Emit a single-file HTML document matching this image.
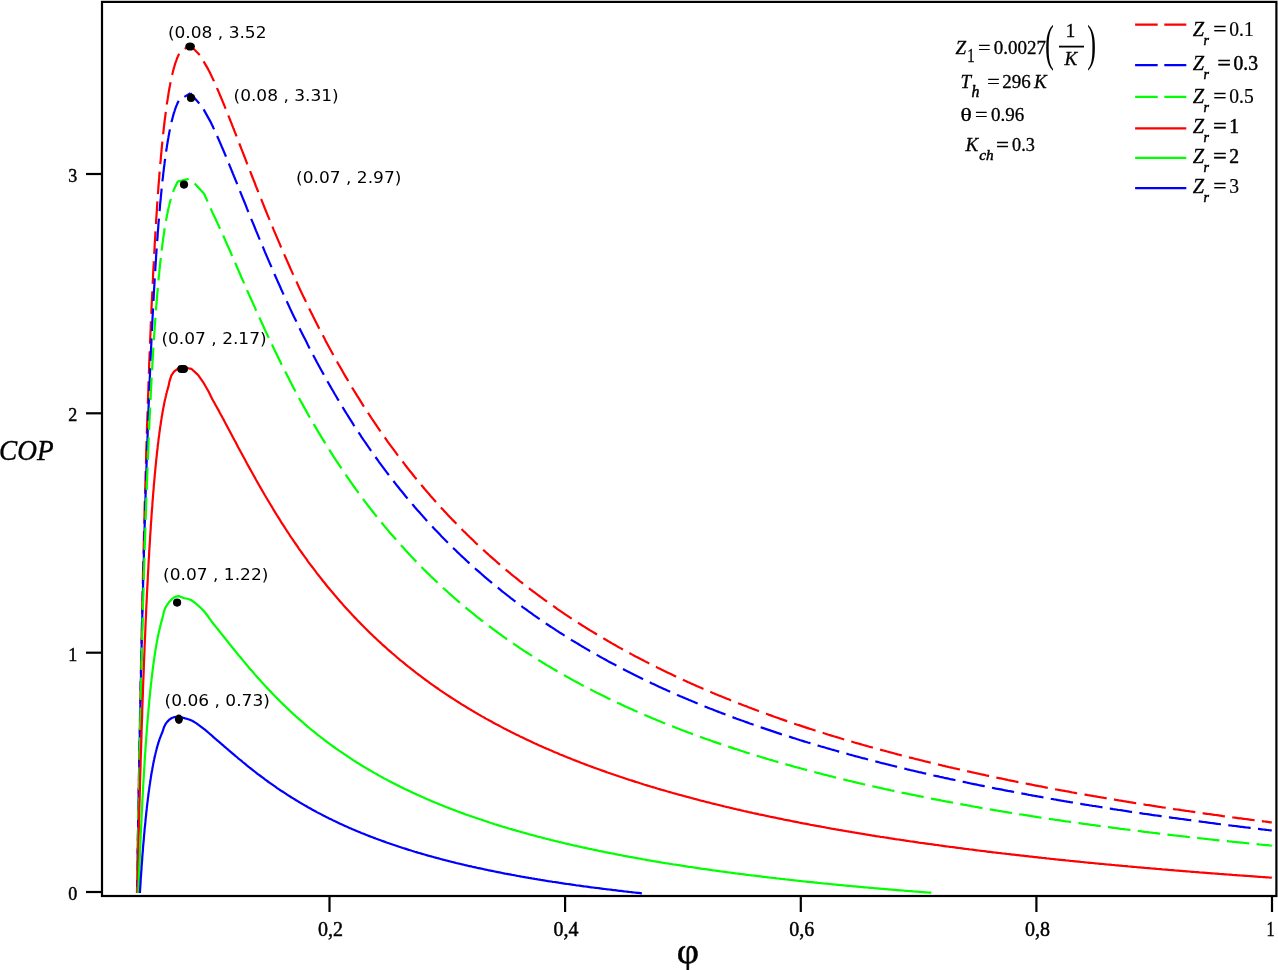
<!DOCTYPE html>
<html lang="en"><head><meta charset="utf-8"><title>COP vs φ</title>
<style>html,body{margin:0;padding:0;background:#fff}svg{display:block}.s{font-family:"Liberation Serif","DejaVu Serif",serif;fill:#000}.a{font-family:"DejaVu Sans","Liberation Sans",sans-serif;font-size:16.5px;fill:#000}.i{font-style:italic}</style></head><body>
<svg width="1278" height="970" viewBox="0 0 1278 970">
<rect x="0" y="0" width="1278" height="970" fill="#fff"/>
<rect x="102" y="1.9" width="1174.4" height="894.1" fill="none" stroke="#000" stroke-width="2.2"/>
<g stroke="#000" stroke-width="2.2">
<line x1="86" y1="892.0" x2="102" y2="892.0"/>
<line x1="86" y1="652.7" x2="102" y2="652.7"/>
<line x1="86" y1="413.3" x2="102" y2="413.3"/>
<line x1="86" y1="174.0" x2="102" y2="174.0"/>
<line x1="329.5" y1="896" x2="329.5" y2="912"/>
<line x1="565.1" y1="896" x2="565.1" y2="912"/>
<line x1="800.8" y1="896" x2="800.8" y2="912"/>
<line x1="1036.4" y1="896" x2="1036.4" y2="912"/>
<line x1="1272.0" y1="896" x2="1272.0" y2="912"/>
</g>
<g class="s" font-size="20" stroke="#000" stroke-width="0.45">
<text font-size="19" transform="translate(77.4,899.9) scale(0.95,1)" text-anchor="end">0</text>
<text font-size="19" transform="translate(77.4,660.6) scale(0.95,1)" text-anchor="end">1</text>
<text font-size="19" transform="translate(77.4,421.2) scale(0.95,1)" text-anchor="end">2</text>
<text font-size="19" transform="translate(77.4,181.9) scale(0.95,1)" text-anchor="end">3</text>
<text x="330.5" y="936" text-anchor="middle">0,2</text>
<text x="566.1" y="936" text-anchor="middle">0,4</text>
<text x="801.8" y="936" text-anchor="middle">0,6</text>
<text x="1037.4" y="936" text-anchor="middle">0,8</text>
<text transform="translate(1270.6,936) scale(0.8,1)" text-anchor="middle">1</text>
</g>
<g fill="none" stroke-width="2.2" stroke-linejoin="round">
<path d="M137.1,893.0 L137.2,885.7 L137.4,873.9 L137.6,862.2 L137.7,850.8 L137.9,839.4 L138.1,828.3 L138.3,817.3 L138.4,806.5 L138.6,795.8 L138.8,785.3 L139.0,774.9 L139.2,764.7 L139.3,754.6 L139.5,744.7 L139.7,734.9 L139.9,725.2 L140.0,715.7 L140.2,706.3 L140.4,697.1 L140.6,687.9 L140.7,678.9 L140.9,670.0 L141.1,661.3 L141.3,652.6 L141.5,644.1 L141.6,635.7 L141.8,627.4 L142.0,619.3 L142.2,611.2 L142.3,603.3 L142.5,595.4 L142.7,587.7 L142.9,580.1 L143.0,572.5 L143.2,565.1 L143.4,557.8 L143.6,550.6 L143.8,543.4 L143.9,536.4 L144.1,529.5 L144.3,522.6 L144.5,515.9 L144.6,509.2 L144.8,502.6 L145.0,496.2 L145.2,489.8 L145.4,483.4 L145.5,477.2 L145.7,471.1 L145.9,465.0 L146.1,459.0 L146.2,453.1 L146.4,447.3 L146.6,441.5 L146.8,435.9 L146.9,430.3 L147.1,424.7 L147.3,419.3 L147.5,413.9 L147.7,408.6 L147.8,403.4 L148.0,398.2 L148.2,393.1 L148.4,388.0 L148.5,383.1 L148.7,378.2 L148.9,373.3 L149.1,368.5 L149.2,363.8 L149.4,359.2 L149.6,354.6 L149.8,350.0 L150.0,345.6 L150.1,341.2 L150.3,336.8 L150.5,332.5 L150.7,328.2 L150.8,324.1 L151.0,319.9 L151.2,315.8 L151.4,311.8 L151.5,307.8 L151.7,303.9 L151.9,300.0 L152.1,296.2 L152.3,292.4 L152.4,288.7 L152.6,285.0 L152.8,281.4 L153.0,277.8 L153.1,274.3 L153.3,270.8 L153.5,267.3 L153.7,263.9 L153.8,260.6 L154.0,257.3 L154.2,254.0 L154.4,250.8 L154.6,247.6 L154.7,244.4 L154.9,241.3 L155.1,238.3 L155.3,235.2 L155.4,232.2 L155.6,229.3 L155.8,226.4 L156.0,223.5 L156.1,220.7 L156.3,217.9 L156.5,215.1 L156.7,212.4 L156.9,209.7 L157.0,207.1 L157.2,204.5 L157.4,201.9 L157.6,199.3 L157.7,196.8 L157.9,194.3 L158.1,191.9 L158.3,189.5 L158.4,187.1 L158.6,184.7 L158.8,182.4 L159.0,180.1 L159.2,177.9 L159.3,175.6 L159.5,173.4 L159.7,171.3 L159.9,169.1 L160.0,167.0 L160.2,164.9 L160.4,162.8 L160.6,160.8 L160.8,158.8 L160.9,156.8 L161.1,154.9 L161.3,153.0 L161.5,151.1 L161.6,149.2 L161.8,147.3 L162.0,145.5 L162.2,143.7 L162.3,142.0 L162.5,140.2 L162.7,138.5 L162.9,136.8 L163.1,135.1 L163.2,133.5 L163.4,131.8 L163.6,130.2 L163.8,128.6 L163.9,127.1 L164.1,125.5 L164.3,124.0 L164.5,122.5 L164.6,121.0 L164.8,119.6 L165.0,118.1 L165.2,116.7 L165.4,115.3 L165.5,114.0 L165.7,112.6 L165.9,111.3 L166.1,109.9 L166.2,108.6 L166.4,107.4 L166.6,106.1 L166.8,104.9 L166.9,103.6 L167.1,102.4 L167.3,101.3 L167.5,100.1 L167.7,98.9 L167.8,97.8 L168.0,96.7 L168.2,95.6 L168.4,94.5 L168.5,93.4 L168.7,92.4 L168.9,91.3 L169.1,90.3 L169.2,89.3 L169.4,88.3 L169.6,87.3 L169.8,86.4 L170.0,85.4 L170.1,84.5 L170.3,83.6 L170.5,82.7 L170.7,81.8 L170.8,81.0 L171.0,80.1 L171.2,79.3 L171.4,78.4 L171.5,77.6 L171.7,76.8 L171.9,76.0 L172.1,75.3 L172.3,74.5 L172.4,73.7 L172.6,73.0 L172.8,72.3 L173.0,71.6 L173.1,70.9 L173.3,70.2 L173.5,69.5 L173.7,68.9 L173.8,68.2 L174.0,67.6 L174.2,67.0 L174.4,66.3 L174.6,65.7 L174.7,65.2 L174.9,64.6 L175.1,64.0 L175.3,63.4 L175.4,62.9 L175.6,62.4 L175.8,61.8 L176.0,61.3 L176.2,60.8 L176.3,60.3 L176.5,59.8 L176.7,59.4 L176.9,58.9 L177.0,58.5 L177.2,58.0 L177.4,57.6 L177.6,57.1 L177.7,56.7 L177.9,56.3 L178.1,55.9 L178.3,55.5 L178.5,55.2 L178.6,54.8 L178.8,54.4 L179.0,54.1 L179.2,53.7 L179.3,53.4 L184.1,49.2 L190.1,45.2" stroke="#ff0000" stroke-dasharray="22.6 7.4" stroke-dashoffset="20.65"/>
<path d="M190.1,45.2 L200.2,55.5 L208.4,69.6 L208.5,69.9 L208.7,70.3 L208.9,70.6 L209.1,71.0 L209.3,71.3 L209.4,71.7 L209.6,72.0 L209.8,72.4 L210.0,72.8 L210.1,73.1 L210.3,73.5 L210.5,73.8 L210.7,74.2 L210.8,74.6 L211.0,74.9 L211.2,75.3 L211.4,75.7 L211.6,76.1 L211.7,76.4 L211.9,76.8 L212.1,77.2 L212.3,77.6 L212.4,77.9 L212.6,78.3 L212.8,78.7 L213.0,79.1 L213.1,79.5 L213.3,79.8 L213.5,80.2 L213.7,80.6 L213.9,81.0 L214.0,81.4 L214.2,81.8 L214.4,82.2 L214.6,82.6 L214.7,83.0 L214.9,83.4 L215.1,83.7 L215.3,84.1 L215.4,84.5 L215.6,84.9 L215.8,85.3 L216.0,85.7 L216.2,86.1 L216.3,86.5 L216.5,86.9 L216.7,87.3 L216.9,87.8 L217.0,88.2 L217.2,88.6 L217.4,89.0 L217.6,89.4 L217.7,89.8 L217.9,90.2 L218.1,90.6 L218.3,91.0 L218.5,91.4 L218.6,91.8 L218.8,92.3 L219.0,92.7 L219.2,93.1 L219.3,93.5 L219.5,93.9 L219.7,94.3 L219.9,94.8 L220.0,95.2 L220.2,95.6 L220.4,96.0 L220.6,96.4 L220.8,96.9 L220.9,97.3 L221.1,97.7 L221.3,98.1 L221.5,98.6 L221.6,99.0 L221.8,99.4 L222.0,99.8 L222.2,100.3 L222.4,100.7 L222.5,101.1 L222.7,101.6 L222.9,102.0 L223.1,102.4 L223.2,102.8 L223.4,103.3 L223.6,103.7 L223.8,104.1 L223.9,104.6 L224.1,105.0 L224.3,105.4 L224.5,105.9 L224.7,106.3 L224.8,106.7 L225.0,107.2 L225.2,107.6 L225.4,108.1 L225.5,108.5 L225.7,108.9 L225.9,109.4 L226.1,109.8 L226.2,110.2 L226.4,110.7 L226.6,111.1 L226.8,111.6 L227.0,112.0 L227.1,112.4 L227.3,112.9 L227.5,113.3 L227.7,113.8 L227.8,114.2 L228.0,114.7 L228.2,115.1 L228.4,115.5 L228.5,116.0 L228.7,116.4 L228.9,116.9 L229.1,117.3 L229.3,117.8 L229.4,118.2 L229.6,118.7 L229.8,119.1 L230.0,119.6 L230.1,120.0 L230.3,120.5 L230.5,120.9 L230.7,121.4 L230.8,121.8 L231.0,122.2 L231.2,122.7 L231.4,123.1 L231.6,123.6 L231.7,124.0 L231.9,124.5 L232.1,124.9 L232.3,125.4 L232.4,125.8 L232.6,126.3 L232.8,126.7 L233.0,127.2 L233.1,127.6 L233.3,128.1 L233.5,128.6 L233.7,129.0 L233.9,129.5 L234.0,129.9 L234.2,130.4 L234.4,130.8 L234.6,131.3 L234.7,131.7 L234.9,132.2 L235.1,132.6 L235.3,133.1 L236.8,136.9 L238.2,140.7 L239.7,144.5 L241.2,148.3 L242.7,152.1 L244.2,156.0 L245.7,159.8 L247.1,163.6 L248.6,167.4 L250.1,171.2 L251.6,175.0 L253.1,178.8 L254.6,182.5 L256.0,186.3 L257.5,190.0 L259.0,193.8 L260.5,197.5 L262.0,201.2 L263.5,204.8 L264.9,208.5 L266.4,212.2 L267.9,215.8 L269.4,219.4 L270.9,223.0 L272.4,226.6 L273.8,230.1 L275.3,233.6 L276.8,237.2 L278.3,240.6 L279.8,244.1 L281.2,247.6 L282.7,251.0 L284.2,254.4 L285.7,257.8 L287.2,261.1 L288.7,264.5 L290.1,267.8 L291.6,271.1 L293.1,274.4 L294.6,277.6 L296.1,280.9 L297.6,284.1 L299.0,287.3 L300.5,290.4 L302.0,293.6 L303.5,296.7 L305.0,299.8 L306.5,302.9 L307.9,305.9 L309.4,309.0 L310.9,312.0 L312.4,315.0 L313.9,317.9 L315.4,320.9 L316.8,323.8 L318.3,326.7 L319.8,329.6 L321.3,332.5 L322.8,335.3 L324.3,338.1 L325.7,340.9 L327.2,343.7 L328.7,346.5 L330.2,349.2 L331.7,352.0 L333.2,354.7 L334.6,357.3 L336.1,360.0 L337.6,362.7 L339.1,365.3 L340.6,367.9 L342.1,370.5 L343.5,373.0 L345.0,375.6 L346.5,378.1 L348.0,380.6 L349.5,383.1 L351.0,385.6 L352.4,388.1 L353.9,390.5 L355.4,392.9 L356.9,395.3 L358.4,397.7 L359.9,400.1 L361.3,402.4 L362.8,404.8 L364.3,407.1 L365.8,409.4 L367.3,411.7 L368.8,414.0 L370.2,416.2 L371.7,418.5 L373.2,420.7 L374.7,422.9 L376.2,425.1 L377.7,427.3 L379.1,429.4 L380.6,431.6 L382.1,433.7 L383.6,435.8 L385.1,437.9 L386.6,440.0 L388.0,442.1 L389.5,444.1 L391.0,446.2 L392.5,448.2 L394.0,450.2 L395.5,452.2 L396.9,454.2 L398.4,456.2 L399.9,458.1 L401.4,460.1 L402.9,462.0 L404.4,463.9 L405.8,465.8 L407.3,467.7 L408.8,469.6 L410.3,471.5 L411.8,473.3 L413.3,475.2 L414.7,477.0 L416.2,478.8 L417.7,480.6 L419.2,482.4 L420.7,484.2 L422.2,486.0 L423.6,487.7 L425.1,489.5 L426.6,491.2 L428.1,492.9 L429.6,494.7 L431.0,496.4 L432.5,498.1 L434.0,499.7 L435.5,501.4 L437.0,503.1 L438.5,504.7 L439.9,506.3 L441.4,508.0 L442.9,509.6 L444.4,511.2 L445.9,512.8 L447.4,514.4 L448.8,515.9 L450.3,517.5 L451.8,519.1 L453.3,520.6 L454.8,522.1 L456.3,523.7 L457.7,525.2 L459.2,526.7 L460.7,528.2 L462.2,529.7 L463.7,531.2 L465.2,532.6 L466.6,534.1 L468.1,535.5 L469.6,537.0 L471.1,538.4 L472.6,539.8 L474.1,541.3 L475.5,542.7 L477.0,544.1 L478.5,545.5 L480.0,546.8 L481.5,548.2 L483.0,549.6 L484.4,550.9 L485.9,552.3 L487.4,553.6 L488.9,555.0 L490.4,556.3 L491.9,557.6 L493.3,558.9 L494.8,560.2 L496.3,561.5 L497.8,562.8 L499.3,564.1 L500.8,565.4 L502.2,566.6 L503.7,567.9 L505.2,569.1 L506.7,570.4 L508.2,571.6 L509.7,572.8 L511.1,574.1 L512.6,575.3 L514.1,576.5 L515.6,577.7 L517.1,578.9 L518.6,580.1 L520.0,581.3 L521.5,582.4 L523.0,583.6 L524.5,584.8 L526.0,585.9 L527.5,587.1 L528.9,588.2 L530.4,589.3 L531.9,590.5 L533.4,591.6 L534.9,592.7 L536.4,593.8 L537.8,594.9 L539.3,596.0 L540.8,597.1 L542.3,598.2 L543.8,599.3 L545.3,600.4 L546.7,601.4 L548.2,602.5 L549.7,603.6 L551.2,604.6 L552.7,605.7 L554.2,606.7 L555.6,607.7 L557.1,608.8 L558.6,609.8 L560.1,610.8 L561.6,611.8 L563.1,612.8 L564.5,613.8 L566.0,614.8 L567.5,615.8 L569.0,616.8 L570.5,617.8 L571.9,618.8 L573.4,619.7 L574.9,620.7 L576.4,621.7 L577.9,622.6 L579.4,623.6 L580.8,624.5 L582.3,625.5 L583.8,626.4 L585.3,627.3 L586.8,628.3 L588.3,629.2 L589.7,630.1 L591.2,631.0 L592.7,631.9 L594.2,632.8 L595.7,633.7 L597.2,634.6 L598.6,635.5 L600.1,636.4 L601.6,637.3 L603.1,638.2 L604.6,639.0 L606.1,639.9 L607.5,640.8 L609.0,641.6 L610.5,642.5 L612.0,643.4 L613.5,644.2 L615.0,645.0 L616.4,645.9 L617.9,646.7 L619.4,647.6 L620.9,648.4 L622.4,649.2 L623.9,650.0 L625.3,650.8 L626.8,651.7 L628.3,652.5 L629.8,653.3 L631.3,654.1 L632.8,654.9 L634.2,655.7 L635.7,656.5 L637.2,657.2 L638.7,658.0 L640.2,658.8 L641.7,659.6 L643.1,660.3 L644.6,661.1 L646.1,661.9 L647.6,662.6 L649.1,663.4 L650.6,664.1 L652.0,664.9 L653.5,665.6 L655.0,666.4 L656.5,667.1 L658.0,667.9 L659.5,668.6 L660.9,669.3 L662.4,670.1 L663.9,670.8 L665.4,671.5 L666.9,672.2 L668.4,672.9 L669.8,673.6 L671.3,674.3 L672.8,675.0 L674.3,675.7 L675.8,676.4 L677.3,677.1 L678.7,677.8 L680.2,678.5 L681.7,679.2 L683.2,679.9 L684.7,680.6 L686.2,681.2 L687.6,681.9 L689.1,682.6 L690.6,683.3 L692.1,683.9 L693.6,684.6 L695.1,685.2 L696.5,685.9 L698.0,686.5 L699.5,687.2 L701.0,687.8 L702.5,688.5 L704.0,689.1 L705.4,689.8 L706.9,690.4 L708.4,691.0 L709.9,691.7 L711.4,692.3 L712.8,692.9 L714.3,693.5 L715.8,694.2 L717.3,694.8 L718.8,695.4 L720.3,696.0 L721.7,696.6 L723.2,697.2 L724.7,697.8 L726.2,698.4 L727.7,699.0 L729.2,699.6 L730.6,700.2 L732.1,700.8 L733.6,701.4 L735.1,702.0 L736.6,702.6 L738.1,703.2 L739.5,703.7 L741.0,704.3 L742.5,704.9 L744.0,705.5 L745.5,706.0 L747.0,706.6 L748.4,707.2 L749.9,707.7 L751.4,708.3 L752.9,708.9 L754.4,709.4 L755.9,710.0 L757.3,710.5 L758.8,711.1 L760.3,711.6 L761.8,712.2 L763.3,712.7 L764.8,713.3 L766.2,713.8 L767.7,714.3 L769.2,714.9 L770.7,715.4 L772.2,715.9 L773.7,716.5 L775.1,717.0 L776.6,717.5 L778.1,718.0 L779.6,718.6 L781.1,719.1 L782.6,719.6 L784.0,720.1 L785.5,720.6 L787.0,721.1 L788.5,721.6 L790.0,722.1 L791.5,722.7 L792.9,723.2 L794.4,723.7 L795.9,724.2 L797.4,724.7 L798.9,725.1 L800.4,725.6 L801.8,726.1 L803.3,726.6 L804.8,727.1 L806.3,727.6 L807.8,728.1 L809.3,728.6 L810.7,729.0 L812.2,729.5 L813.7,730.0 L815.2,730.5 L816.7,730.9 L818.2,731.4 L819.6,731.9 L821.1,732.4 L822.6,732.8 L824.1,733.3 L825.6,733.7 L827.1,734.2 L828.5,734.7 L830.0,735.1 L831.5,735.6 L833.0,736.0 L834.5,736.5 L836.0,736.9 L837.4,737.4 L838.9,737.8 L840.4,738.3 L841.9,738.7 L843.4,739.2 L844.9,739.6 L846.3,740.1 L847.8,740.5 L849.3,740.9 L850.8,741.4 L852.3,741.8 L853.7,742.2 L855.2,742.7 L856.7,743.1 L858.2,743.5 L859.7,743.9 L861.2,744.4 L862.6,744.8 L864.1,745.2 L865.6,745.6 L867.1,746.0 L868.6,746.5 L870.1,746.9 L871.5,747.3 L873.0,747.7 L874.5,748.1 L876.0,748.5 L877.5,748.9 L879.0,749.3 L880.4,749.7 L881.9,750.1 L883.4,750.5 L884.9,750.9 L886.4,751.3 L887.9,751.7 L889.3,752.1 L890.8,752.5 L892.3,752.9 L893.8,753.3 L895.3,753.7 L896.8,754.1 L898.2,754.5 L899.7,754.9 L901.2,755.3 L902.7,755.6 L904.2,756.0 L905.7,756.4 L907.1,756.8 L908.6,757.2 L910.1,757.6 L911.6,757.9 L913.1,758.3 L914.6,758.7 L916.0,759.1 L917.5,759.4 L919.0,759.8 L920.5,760.2 L922.0,760.5 L923.5,760.9 L924.9,761.3 L926.4,761.6 L927.9,762.0 L929.4,762.4 L930.9,762.7 L932.4,763.1 L933.8,763.4 L935.3,763.8 L936.8,764.1 L938.3,764.5 L939.8,764.9 L941.3,765.2 L942.7,765.6 L944.2,765.9 L945.7,766.3 L947.2,766.6 L948.7,767.0 L950.2,767.3 L951.6,767.6 L953.1,768.0 L954.6,768.3 L956.1,768.7 L957.6,769.0 L959.1,769.3 L960.5,769.7 L962.0,770.0 L963.5,770.4 L965.0,770.7 L966.5,771.0 L968.0,771.4 L969.4,771.7 L970.9,772.0 L972.4,772.4 L973.9,772.7 L975.4,773.0 L976.9,773.3 L978.3,773.7 L979.8,774.0 L981.3,774.3 L982.8,774.6 L984.3,774.9 L985.8,775.3 L987.2,775.6 L988.7,775.9 L990.2,776.2 L991.7,776.5 L993.2,776.9 L994.6,777.2 L996.1,777.5 L997.6,777.8 L999.1,778.1 L1000.6,778.4 L1002.1,778.7 L1003.5,779.0 L1005.0,779.3 L1006.5,779.6 L1008.0,780.0 L1009.5,780.3 L1011.0,780.6 L1012.4,780.9 L1013.9,781.2 L1015.4,781.5 L1016.9,781.8 L1018.4,782.1 L1019.9,782.4 L1021.3,782.7 L1022.8,783.0 L1024.3,783.3 L1025.8,783.5 L1027.3,783.8 L1028.8,784.1 L1030.2,784.4 L1031.7,784.7 L1033.2,785.0 L1034.7,785.3 L1036.2,785.6 L1037.7,785.9 L1039.1,786.2 L1040.6,786.4 L1042.1,786.7 L1043.6,787.0 L1045.1,787.3 L1046.6,787.6 L1048.0,787.9 L1049.5,788.1 L1051.0,788.4 L1052.5,788.7 L1054.0,789.0 L1055.5,789.3 L1056.9,789.5 L1058.4,789.8 L1059.9,790.1 L1061.4,790.4 L1062.9,790.6 L1064.4,790.9 L1065.8,791.2 L1067.3,791.4 L1068.8,791.7 L1070.3,792.0 L1071.8,792.3 L1073.3,792.5 L1074.7,792.8 L1076.2,793.1 L1077.7,793.3 L1079.2,793.6 L1080.7,793.8 L1082.2,794.1 L1083.6,794.4 L1085.1,794.6 L1086.6,794.9 L1088.1,795.2 L1089.6,795.4 L1091.1,795.7 L1092.5,795.9 L1094.0,796.2 L1095.5,796.4 L1097.0,796.7 L1098.5,797.0 L1100.0,797.2 L1101.4,797.5 L1102.9,797.7 L1104.4,798.0 L1105.9,798.2 L1107.4,798.5 L1108.9,798.7 L1110.3,799.0 L1111.8,799.2 L1113.3,799.5 L1114.8,799.7 L1116.3,800.0 L1117.8,800.2 L1119.2,800.5 L1120.7,800.7 L1122.2,800.9 L1123.7,801.2 L1125.2,801.4 L1126.7,801.7 L1128.1,801.9 L1129.6,802.2 L1131.1,802.4 L1132.6,802.6 L1134.1,802.9 L1135.5,803.1 L1137.0,803.3 L1138.5,803.6 L1140.0,803.8 L1141.5,804.0 L1143.0,804.3 L1144.4,804.5 L1145.9,804.8 L1147.4,805.0 L1148.9,805.2 L1150.4,805.4 L1151.9,805.7 L1153.3,805.9 L1154.8,806.1 L1156.3,806.4 L1157.8,806.6 L1159.3,806.8 L1160.8,807.0 L1162.2,807.3 L1163.7,807.5 L1165.2,807.7 L1166.7,807.9 L1168.2,808.2 L1169.7,808.4 L1171.1,808.6 L1172.6,808.8 L1174.1,809.1 L1175.6,809.3 L1177.1,809.5 L1178.6,809.7 L1180.0,809.9 L1181.5,810.2 L1183.0,810.4 L1184.5,810.6 L1186.0,810.8 L1187.5,811.0 L1188.9,811.2 L1190.4,811.5 L1191.9,811.7 L1193.4,811.9 L1194.9,812.1 L1196.4,812.3 L1197.8,812.5 L1199.3,812.7 L1200.8,813.0 L1202.3,813.2 L1203.8,813.4 L1205.3,813.6 L1206.7,813.8 L1208.2,814.0 L1209.7,814.2 L1211.2,814.4 L1212.7,814.6 L1214.2,814.8 L1215.6,815.0 L1217.1,815.2 L1218.6,815.4 L1220.1,815.6 L1221.6,815.8 L1223.1,816.1 L1224.5,816.3 L1226.0,816.5 L1227.5,816.7 L1229.0,816.9 L1230.5,817.1 L1232.0,817.3 L1233.4,817.5 L1234.9,817.7 L1236.4,817.9 L1237.9,818.1 L1239.4,818.3 L1240.9,818.4 L1242.3,818.6 L1243.8,818.8 L1245.3,819.0 L1246.8,819.2 L1248.3,819.4 L1249.8,819.6 L1251.2,819.8 L1252.7,820.0 L1254.2,820.2 L1255.7,820.4 L1257.2,820.6 L1258.7,820.8 L1260.1,821.0 L1261.6,821.2 L1263.1,821.3 L1264.6,821.5 L1266.1,821.7 L1267.6,821.9 L1269.0,822.1 L1270.5,822.3 L1271.8,822.4" stroke="#ff0000" stroke-dasharray="22.520 7.4" stroke-dashoffset="8.75"/>
<path d="M137.0,893.0 L137.0,891.5 L137.2,880.3 L137.4,869.3 L137.6,858.4 L137.7,847.7 L137.9,837.2 L138.1,826.8 L138.3,816.5 L138.4,806.4 L138.6,796.4 L138.8,786.6 L139.0,776.9 L139.2,767.3 L139.3,757.9 L139.5,748.6 L139.7,739.4 L139.9,730.4 L140.0,721.5 L140.2,712.7 L140.4,704.0 L140.6,695.5 L140.7,687.0 L140.9,678.7 L141.1,670.5 L141.3,662.4 L141.5,654.4 L141.6,646.5 L141.8,638.8 L142.0,631.1 L142.2,623.5 L142.3,616.1 L142.5,608.7 L142.7,601.5 L142.9,594.3 L143.0,587.2 L143.2,580.3 L143.4,573.4 L143.6,566.6 L143.8,559.9 L143.9,553.3 L144.1,546.8 L144.3,540.4 L144.5,534.0 L144.6,527.8 L144.8,521.6 L145.0,515.5 L145.2,509.5 L145.4,503.5 L145.5,497.7 L145.7,491.9 L145.9,486.2 L146.1,480.6 L146.2,475.0 L146.4,469.5 L146.6,464.1 L146.8,458.8 L146.9,453.5 L147.1,448.3 L147.3,443.2 L147.5,438.1 L147.7,433.1 L147.8,428.2 L148.0,423.3 L148.2,418.5 L148.4,413.8 L148.5,409.1 L148.7,404.5 L148.9,399.9 L149.1,395.4 L149.2,391.0 L149.4,386.6 L149.6,382.3 L149.8,378.0 L150.0,373.8 L150.1,369.6 L150.3,365.5 L150.5,361.5 L150.7,357.5 L150.8,353.5 L151.0,349.6 L151.2,345.8 L151.4,342.0 L151.5,338.2 L151.7,334.5 L151.9,330.9 L152.1,327.3 L152.3,323.7 L152.4,320.2 L152.6,316.7 L152.8,313.3 L153.0,309.9 L153.1,306.6 L153.3,303.3 L153.5,300.1 L153.7,296.9 L153.8,293.7 L154.0,290.6 L154.2,287.5 L154.4,284.5 L154.6,281.5 L154.7,278.5 L154.9,275.6 L155.1,272.7 L155.3,269.8 L155.4,267.0 L155.6,264.3 L155.8,261.5 L156.0,258.8 L156.1,256.2 L156.3,253.5 L156.5,250.9 L156.7,248.4 L156.9,245.8 L157.0,243.3 L157.2,240.9 L157.4,238.5 L157.6,236.1 L157.7,233.7 L157.9,231.4 L158.1,229.0 L158.3,226.8 L158.4,224.5 L158.6,222.3 L158.8,220.1 L159.0,218.0 L159.2,215.8 L159.3,213.7 L159.5,211.7 L159.7,209.6 L159.9,207.6 L160.0,205.6 L160.2,203.7 L160.4,201.7 L160.6,199.8 L160.8,197.9 L160.9,196.1 L161.1,194.3 L161.3,192.4 L161.5,190.7 L161.6,188.9 L161.8,187.2 L162.0,185.5 L162.2,183.8 L162.3,182.1 L162.5,180.5 L162.7,178.9 L162.9,177.3 L163.1,175.7 L163.2,174.1 L163.4,172.6 L163.6,171.1 L163.8,169.6 L163.9,168.1 L164.1,166.7 L164.3,165.3 L164.5,163.9 L164.6,162.5 L164.8,161.1 L165.0,159.8 L165.2,158.5 L165.4,157.1 L165.5,155.9 L165.7,154.6 L165.9,153.3 L166.1,152.1 L166.2,150.9 L166.4,149.7 L166.6,148.5 L166.8,147.4 L166.9,146.2 L167.1,145.1 L167.3,144.0 L167.5,142.9 L167.7,141.8 L167.8,140.8 L168.0,139.7 L168.2,138.7 L168.4,137.7 L168.5,136.7 L168.7,135.7 L168.9,134.7 L169.1,133.8 L169.2,132.8 L169.4,131.9 L169.6,131.0 L169.8,130.1 L170.0,129.2 L170.1,128.4 L170.3,127.5 L170.5,126.7 L170.7,125.9 L170.8,125.1 L171.0,124.3 L171.2,123.5 L171.4,122.7 L171.5,122.0 L171.7,121.2 L171.9,120.5 L172.1,119.8 L172.3,119.1 L172.4,118.4 L172.6,117.7 L172.8,117.0 L173.0,116.4 L173.1,115.7 L173.3,115.1 L173.5,114.5 L173.7,113.9 L173.8,113.3 L174.0,112.7 L174.2,112.1 L174.4,111.6 L174.6,111.0 L174.7,110.5 L174.9,109.9 L175.1,109.4 L175.3,108.9 L175.4,108.4 L175.6,107.9 L175.8,107.4 L176.0,106.9 L176.2,106.5 L176.3,106.0 L176.5,105.6 L176.7,105.2 L176.9,104.7 L177.0,104.3 L177.2,103.9 L177.4,103.5 L177.6,103.1 L177.7,102.8 L177.9,102.4 L178.1,102.0 L178.3,101.7 L178.5,101.3 L178.6,101.0 L178.8,100.7 L179.0,100.4 L179.2,100.1 L179.3,99.8 L179.5,99.5 L179.7,99.2 L179.9,98.9 L180.0,98.6 L180.2,98.4 L180.4,98.1 L183.7,97.2 L190.4,93.3" stroke="#0000ff" stroke-dasharray="22.6 7.4" stroke-dashoffset="7.73"/>
<path d="M190.4,93.3 L202.0,106.5 L210.7,122.1 L210.8,122.5 L211.0,122.9 L211.2,123.2 L211.4,123.6 L211.6,124.0 L211.7,124.3 L211.9,124.7 L212.1,125.1 L212.3,125.4 L212.4,125.8 L212.6,126.2 L212.8,126.5 L213.0,126.9 L213.1,127.3 L213.3,127.7 L213.5,128.1 L213.7,128.4 L213.9,128.8 L214.0,129.2 L214.2,129.6 L214.4,130.0 L214.6,130.3 L214.7,130.7 L214.9,131.1 L215.1,131.5 L215.3,131.9 L215.4,132.3 L215.6,132.7 L215.8,133.0 L216.0,133.4 L216.2,133.8 L216.3,134.2 L216.5,134.6 L216.7,135.0 L216.9,135.4 L217.0,135.8 L217.2,136.2 L217.4,136.6 L217.6,137.0 L217.7,137.4 L217.9,137.8 L218.1,138.2 L218.3,138.6 L218.5,139.0 L218.6,139.4 L218.8,139.8 L219.0,140.2 L219.2,140.6 L219.3,141.0 L219.5,141.4 L219.7,141.8 L219.9,142.2 L220.0,142.6 L220.2,143.1 L220.4,143.5 L220.6,143.9 L220.8,144.3 L220.9,144.7 L221.1,145.1 L221.3,145.5 L221.5,145.9 L221.6,146.3 L221.8,146.8 L222.0,147.2 L222.2,147.6 L222.4,148.0 L222.5,148.4 L222.7,148.8 L222.9,149.3 L223.1,149.7 L223.2,150.1 L223.4,150.5 L223.6,150.9 L223.8,151.4 L223.9,151.8 L224.1,152.2 L224.3,152.6 L224.5,153.0 L224.7,153.5 L224.8,153.9 L225.0,154.3 L225.2,154.7 L225.4,155.2 L225.5,155.6 L225.7,156.0 L225.9,156.4 L226.1,156.9 L226.2,157.3 L226.4,157.7 L226.6,158.1 L226.8,158.6 L227.0,159.0 L227.1,159.4 L227.3,159.9 L227.5,160.3 L227.7,160.7 L227.8,161.1 L228.0,161.6 L228.2,162.0 L228.4,162.4 L228.5,162.9 L228.7,163.3 L228.9,163.7 L229.1,164.2 L229.3,164.6 L229.4,165.0 L229.6,165.4 L229.8,165.9 L230.0,166.3 L230.1,166.7 L230.3,167.2 L230.5,167.6 L230.7,168.0 L230.8,168.5 L231.0,168.9 L231.2,169.4 L231.4,169.8 L231.6,170.2 L231.7,170.7 L231.9,171.1 L232.1,171.5 L232.3,172.0 L232.4,172.4 L232.6,172.8 L232.8,173.3 L233.0,173.7 L233.1,174.1 L233.3,174.6 L233.5,175.0 L233.7,175.5 L233.9,175.9 L234.0,176.3 L234.2,176.8 L234.4,177.2 L234.6,177.6 L234.7,178.1 L234.9,178.5 L235.1,179.0 L235.3,179.4 L236.8,183.1 L238.2,186.7 L239.7,190.4 L241.2,194.1 L242.7,197.8 L244.2,201.5 L245.7,205.1 L247.1,208.8 L248.6,212.5 L250.1,216.1 L251.6,219.8 L253.1,223.4 L254.6,227.0 L256.0,230.6 L257.5,234.2 L259.0,237.8 L260.5,241.4 L262.0,244.9 L263.5,248.4 L264.9,251.9 L266.4,255.4 L267.9,258.9 L269.4,262.4 L270.9,265.8 L272.4,269.2 L273.8,272.6 L275.3,276.0 L276.8,279.4 L278.3,282.7 L279.8,286.0 L281.2,289.3 L282.7,292.6 L284.2,295.8 L285.7,299.1 L287.2,302.3 L288.7,305.5 L290.1,308.6 L291.6,311.8 L293.1,314.9 L294.6,318.0 L296.1,321.1 L297.6,324.2 L299.0,327.2 L300.5,330.2 L302.0,333.2 L303.5,336.2 L305.0,339.1 L306.5,342.1 L307.9,345.0 L309.4,347.9 L310.9,350.7 L312.4,353.6 L313.9,356.4 L315.4,359.2 L316.8,362.0 L318.3,364.7 L319.8,367.5 L321.3,370.2 L322.8,372.9 L324.3,375.6 L325.7,378.3 L327.2,380.9 L328.7,383.5 L330.2,386.1 L331.7,388.7 L333.2,391.3 L334.6,393.8 L336.1,396.3 L337.6,398.9 L339.1,401.3 L340.6,403.8 L342.1,406.3 L343.5,408.7 L345.0,411.1 L346.5,413.5 L348.0,415.9 L349.5,418.3 L351.0,420.6 L352.4,422.9 L353.9,425.3 L355.4,427.5 L356.9,429.8 L358.4,432.1 L359.9,434.3 L361.3,436.6 L362.8,438.8 L364.3,441.0 L365.8,443.1 L367.3,445.3 L368.8,447.5 L370.2,449.6 L371.7,451.7 L373.2,453.8 L374.7,455.9 L376.2,458.0 L377.7,460.0 L379.1,462.1 L380.6,464.1 L382.1,466.1 L383.6,468.1 L385.1,470.1 L386.6,472.1 L388.0,474.0 L389.5,476.0 L391.0,477.9 L392.5,479.8 L394.0,481.7 L395.5,483.6 L396.9,485.5 L398.4,487.3 L399.9,489.2 L401.4,491.0 L402.9,492.8 L404.4,494.7 L405.8,496.5 L407.3,498.2 L408.8,500.0 L410.3,501.8 L411.8,503.5 L413.3,505.3 L414.7,507.0 L416.2,508.7 L417.7,510.4 L419.2,512.1 L420.7,513.8 L422.2,515.4 L423.6,517.1 L425.1,518.8 L426.6,520.4 L428.1,522.0 L429.6,523.6 L431.0,525.2 L432.5,526.8 L434.0,528.4 L435.5,530.0 L437.0,531.5 L438.5,533.1 L439.9,534.6 L441.4,536.2 L442.9,537.7 L444.4,539.2 L445.9,540.7 L447.4,542.2 L448.8,543.7 L450.3,545.1 L451.8,546.6 L453.3,548.1 L454.8,549.5 L456.3,550.9 L457.7,552.4 L459.2,553.8 L460.7,555.2 L462.2,556.6 L463.7,558.0 L465.2,559.4 L466.6,560.7 L468.1,562.1 L469.6,563.5 L471.1,564.8 L472.6,566.2 L474.1,567.5 L475.5,568.8 L477.0,570.1 L478.5,571.4 L480.0,572.7 L481.5,574.0 L483.0,575.3 L484.4,576.6 L485.9,577.9 L487.4,579.1 L488.9,580.4 L490.4,581.6 L491.9,582.9 L493.3,584.1 L494.8,585.3 L496.3,586.5 L497.8,587.7 L499.3,588.9 L500.8,590.1 L502.2,591.3 L503.7,592.5 L505.2,593.7 L506.7,594.8 L508.2,596.0 L509.7,597.2 L511.1,598.3 L512.6,599.4 L514.1,600.6 L515.6,601.7 L517.1,602.8 L518.6,603.9 L520.0,605.1 L521.5,606.2 L523.0,607.3 L524.5,608.3 L526.0,609.4 L527.5,610.5 L528.9,611.6 L530.4,612.6 L531.9,613.7 L533.4,614.8 L534.9,615.8 L536.4,616.8 L537.8,617.9 L539.3,618.9 L540.8,619.9 L542.3,621.0 L543.8,622.0 L545.3,623.0 L546.7,624.0 L548.2,625.0 L549.7,626.0 L551.2,627.0 L552.7,627.9 L554.2,628.9 L555.6,629.9 L557.1,630.9 L558.6,631.8 L560.1,632.8 L561.6,633.7 L563.1,634.7 L564.5,635.6 L566.0,636.5 L567.5,637.5 L569.0,638.4 L570.5,639.3 L571.9,640.2 L573.4,641.1 L574.9,642.0 L576.4,642.9 L577.9,643.8 L579.4,644.7 L580.8,645.6 L582.3,646.5 L583.8,647.4 L585.3,648.3 L586.8,649.1 L588.3,650.0 L589.7,650.9 L591.2,651.7 L592.7,652.6 L594.2,653.4 L595.7,654.3 L597.2,655.1 L598.6,655.9 L600.1,656.8 L601.6,657.6 L603.1,658.4 L604.6,659.2 L606.1,660.0 L607.5,660.9 L609.0,661.7 L610.5,662.5 L612.0,663.3 L613.5,664.1 L615.0,664.8 L616.4,665.6 L617.9,666.4 L619.4,667.2 L620.9,668.0 L622.4,668.7 L623.9,669.5 L625.3,670.3 L626.8,671.0 L628.3,671.8 L629.8,672.5 L631.3,673.3 L632.8,674.0 L634.2,674.8 L635.7,675.5 L637.2,676.3 L638.7,677.0 L640.2,677.7 L641.7,678.4 L643.1,679.2 L644.6,679.9 L646.1,680.6 L647.6,681.3 L649.1,682.0 L650.6,682.7 L652.0,683.4 L653.5,684.1 L655.0,684.8 L656.5,685.5 L658.0,686.2 L659.5,686.9 L660.9,687.6 L662.4,688.2 L663.9,688.9 L665.4,689.6 L666.9,690.3 L668.4,690.9 L669.8,691.6 L671.3,692.3 L672.8,692.9 L674.3,693.6 L675.8,694.2 L677.3,694.9 L678.7,695.5 L680.2,696.2 L681.7,696.8 L683.2,697.4 L684.7,698.1 L686.2,698.7 L687.6,699.3 L689.1,700.0 L690.6,700.6 L692.1,701.2 L693.6,701.8 L695.1,702.4 L696.5,703.1 L698.0,703.7 L699.5,704.3 L701.0,704.9 L702.5,705.5 L704.0,706.1 L705.4,706.7 L706.9,707.3 L708.4,707.9 L709.9,708.5 L711.4,709.0 L712.8,709.6 L714.3,710.2 L715.8,710.8 L717.3,711.4 L718.8,711.9 L720.3,712.5 L721.7,713.1 L723.2,713.6 L724.7,714.2 L726.2,714.8 L727.7,715.3 L729.2,715.9 L730.6,716.5 L732.1,717.0 L733.6,717.6 L735.1,718.1 L736.6,718.7 L738.1,719.2 L739.5,719.7 L741.0,720.3 L742.5,720.8 L744.0,721.3 L745.5,721.9 L747.0,722.4 L748.4,722.9 L749.9,723.5 L751.4,724.0 L752.9,724.5 L754.4,725.0 L755.9,725.6 L757.3,726.1 L758.8,726.6 L760.3,727.1 L761.8,727.6 L763.3,728.1 L764.8,728.6 L766.2,729.1 L767.7,729.6 L769.2,730.1 L770.7,730.6 L772.2,731.1 L773.7,731.6 L775.1,732.1 L776.6,732.6 L778.1,733.1 L779.6,733.6 L781.1,734.1 L782.6,734.5 L784.0,735.0 L785.5,735.5 L787.0,736.0 L788.5,736.4 L790.0,736.9 L791.5,737.4 L792.9,737.9 L794.4,738.3 L795.9,738.8 L797.4,739.3 L798.9,739.7 L800.4,740.2 L801.8,740.6 L803.3,741.1 L804.8,741.6 L806.3,742.0 L807.8,742.5 L809.3,742.9 L810.7,743.4 L812.2,743.8 L813.7,744.3 L815.2,744.7 L816.7,745.1 L818.2,745.6 L819.6,746.0 L821.1,746.5 L822.6,746.9 L824.1,747.3 L825.6,747.8 L827.1,748.2 L828.5,748.6 L830.0,749.0 L831.5,749.5 L833.0,749.9 L834.5,750.3 L836.0,750.7 L837.4,751.1 L838.9,751.6 L840.4,752.0 L841.9,752.4 L843.4,752.8 L844.9,753.2 L846.3,753.6 L847.8,754.0 L849.3,754.5 L850.8,754.9 L852.3,755.3 L853.7,755.7 L855.2,756.1 L856.7,756.5 L858.2,756.9 L859.7,757.3 L861.2,757.7 L862.6,758.1 L864.1,758.4 L865.6,758.8 L867.1,759.2 L868.6,759.6 L870.1,760.0 L871.5,760.4 L873.0,760.8 L874.5,761.2 L876.0,761.5 L877.5,761.9 L879.0,762.3 L880.4,762.7 L881.9,763.1 L883.4,763.4 L884.9,763.8 L886.4,764.2 L887.9,764.5 L889.3,764.9 L890.8,765.3 L892.3,765.7 L893.8,766.0 L895.3,766.4 L896.8,766.7 L898.2,767.1 L899.7,767.5 L901.2,767.8 L902.7,768.2 L904.2,768.5 L905.7,768.9 L907.1,769.3 L908.6,769.6 L910.1,770.0 L911.6,770.3 L913.1,770.7 L914.6,771.0 L916.0,771.4 L917.5,771.7 L919.0,772.1 L920.5,772.4 L922.0,772.7 L923.5,773.1 L924.9,773.4 L926.4,773.8 L927.9,774.1 L929.4,774.4 L930.9,774.8 L932.4,775.1 L933.8,775.5 L935.3,775.8 L936.8,776.1 L938.3,776.4 L939.8,776.8 L941.3,777.1 L942.7,777.4 L944.2,777.8 L945.7,778.1 L947.2,778.4 L948.7,778.7 L950.2,779.1 L951.6,779.4 L953.1,779.7 L954.6,780.0 L956.1,780.3 L957.6,780.7 L959.1,781.0 L960.5,781.3 L962.0,781.6 L963.5,781.9 L965.0,782.2 L966.5,782.5 L968.0,782.8 L969.4,783.2 L970.9,783.5 L972.4,783.8 L973.9,784.1 L975.4,784.4 L976.9,784.7 L978.3,785.0 L979.8,785.3 L981.3,785.6 L982.8,785.9 L984.3,786.2 L985.8,786.5 L987.2,786.8 L988.7,787.1 L990.2,787.4 L991.7,787.7 L993.2,788.0 L994.6,788.3 L996.1,788.6 L997.6,788.8 L999.1,789.1 L1000.6,789.4 L1002.1,789.7 L1003.5,790.0 L1005.0,790.3 L1006.5,790.6 L1008.0,790.9 L1009.5,791.1 L1011.0,791.4 L1012.4,791.7 L1013.9,792.0 L1015.4,792.3 L1016.9,792.6 L1018.4,792.8 L1019.9,793.1 L1021.3,793.4 L1022.8,793.7 L1024.3,793.9 L1025.8,794.2 L1027.3,794.5 L1028.8,794.8 L1030.2,795.0 L1031.7,795.3 L1033.2,795.6 L1034.7,795.8 L1036.2,796.1 L1037.7,796.4 L1039.1,796.6 L1040.6,796.9 L1042.1,797.2 L1043.6,797.4 L1045.1,797.7 L1046.6,798.0 L1048.0,798.2 L1049.5,798.5 L1051.0,798.8 L1052.5,799.0 L1054.0,799.3 L1055.5,799.5 L1056.9,799.8 L1058.4,800.1 L1059.9,800.3 L1061.4,800.6 L1062.9,800.8 L1064.4,801.1 L1065.8,801.3 L1067.3,801.6 L1068.8,801.8 L1070.3,802.1 L1071.8,802.3 L1073.3,802.6 L1074.7,802.8 L1076.2,803.1 L1077.7,803.3 L1079.2,803.6 L1080.7,803.8 L1082.2,804.1 L1083.6,804.3 L1085.1,804.6 L1086.6,804.8 L1088.1,805.0 L1089.6,805.3 L1091.1,805.5 L1092.5,805.8 L1094.0,806.0 L1095.5,806.2 L1097.0,806.5 L1098.5,806.7 L1100.0,807.0 L1101.4,807.2 L1102.9,807.4 L1104.4,807.7 L1105.9,807.9 L1107.4,808.1 L1108.9,808.4 L1110.3,808.6 L1111.8,808.8 L1113.3,809.1 L1114.8,809.3 L1116.3,809.5 L1117.8,809.8 L1119.2,810.0 L1120.7,810.2 L1122.2,810.4 L1123.7,810.7 L1125.2,810.9 L1126.7,811.1 L1128.1,811.3 L1129.6,811.6 L1131.1,811.8 L1132.6,812.0 L1134.1,812.2 L1135.5,812.5 L1137.0,812.7 L1138.5,812.9 L1140.0,813.1 L1141.5,813.3 L1143.0,813.6 L1144.4,813.8 L1145.9,814.0 L1147.4,814.2 L1148.9,814.4 L1150.4,814.6 L1151.9,814.9 L1153.3,815.1 L1154.8,815.3 L1156.3,815.5 L1157.8,815.7 L1159.3,815.9 L1160.8,816.1 L1162.2,816.3 L1163.7,816.6 L1165.2,816.8 L1166.7,817.0 L1168.2,817.2 L1169.7,817.4 L1171.1,817.6 L1172.6,817.8 L1174.1,818.0 L1175.6,818.2 L1177.1,818.4 L1178.6,818.6 L1180.0,818.8 L1181.5,819.0 L1183.0,819.2 L1184.5,819.4 L1186.0,819.6 L1187.5,819.8 L1188.9,820.0 L1190.4,820.2 L1191.9,820.4 L1193.4,820.6 L1194.9,820.8 L1196.4,821.0 L1197.8,821.2 L1199.3,821.4 L1200.8,821.6 L1202.3,821.8 L1203.8,822.0 L1205.3,822.2 L1206.7,822.4 L1208.2,822.6 L1209.7,822.8 L1211.2,823.0 L1212.7,823.2 L1214.2,823.4 L1215.6,823.6 L1217.1,823.8 L1218.6,824.0 L1220.1,824.2 L1221.6,824.3 L1223.1,824.5 L1224.5,824.7 L1226.0,824.9 L1227.5,825.1 L1229.0,825.3 L1230.5,825.5 L1232.0,825.7 L1233.4,825.8 L1234.9,826.0 L1236.4,826.2 L1237.9,826.4 L1239.4,826.6 L1240.9,826.8 L1242.3,826.9 L1243.8,827.1 L1245.3,827.3 L1246.8,827.5 L1248.3,827.7 L1249.8,827.9 L1251.2,828.0 L1252.7,828.2 L1254.2,828.4 L1255.7,828.6 L1257.2,828.8 L1258.7,828.9 L1260.1,829.1 L1261.6,829.3 L1263.1,829.5 L1264.6,829.6 L1266.1,829.8 L1267.6,830.0 L1269.0,830.2 L1270.5,830.3 L1271.8,830.5" stroke="#0000ff" stroke-dasharray="22.525 7.4" stroke-dashoffset="9.05"/>
<path d="M137.1,893.0 L137.2,887.1 L137.4,876.3 L137.6,865.6 L137.7,855.1 L137.9,844.8 L138.1,834.6 L138.3,824.6 L138.4,814.8 L138.6,805.1 L138.8,795.6 L139.0,786.2 L139.2,776.9 L139.3,767.9 L139.5,758.9 L139.7,750.1 L139.9,741.4 L140.0,732.9 L140.2,724.5 L140.4,716.2 L140.6,708.0 L140.7,700.0 L140.9,692.1 L141.1,684.3 L141.3,676.6 L141.5,669.1 L141.6,661.6 L141.8,654.3 L142.0,647.1 L142.2,640.0 L142.3,633.0 L142.5,626.1 L142.7,619.3 L142.9,612.6 L143.0,606.0 L143.2,599.5 L143.4,593.1 L143.6,586.7 L143.8,580.5 L143.9,574.4 L144.1,568.4 L144.3,562.4 L144.5,556.5 L144.6,550.8 L144.8,545.1 L145.0,539.5 L145.2,533.9 L145.4,528.5 L145.5,523.1 L145.7,517.8 L145.9,512.6 L146.1,507.4 L146.2,502.4 L146.4,497.4 L146.6,492.5 L146.8,487.6 L146.9,482.8 L147.1,478.1 L147.3,473.4 L147.5,468.9 L147.7,464.3 L147.8,459.9 L148.0,455.5 L148.2,451.1 L148.4,446.9 L148.5,442.7 L148.7,438.5 L148.9,434.4 L149.1,430.4 L149.2,426.4 L149.4,422.5 L149.6,418.6 L149.8,414.8 L150.0,411.1 L150.1,407.3 L150.3,403.7 L150.5,400.1 L150.7,396.5 L150.8,393.0 L151.0,389.6 L151.2,386.2 L151.4,382.8 L151.5,379.5 L151.7,376.2 L151.9,373.0 L152.1,369.8 L152.3,366.7 L152.4,363.6 L152.6,360.6 L152.8,357.6 L153.0,354.6 L153.1,351.7 L153.3,348.8 L153.5,346.0 L153.7,343.2 L153.8,340.4 L154.0,337.7 L154.2,335.0 L154.4,332.4 L154.6,329.8 L154.7,327.2 L154.9,324.7 L155.1,322.2 L155.3,319.7 L155.4,317.3 L155.6,314.9 L155.8,312.5 L156.0,310.2 L156.1,307.9 L156.3,305.6 L156.5,303.4 L156.7,301.2 L156.9,299.0 L157.0,296.9 L157.2,294.8 L157.4,292.7 L157.6,290.6 L157.7,288.6 L157.9,286.6 L158.1,284.6 L158.3,282.7 L158.4,280.8 L158.6,278.9 L158.8,277.1 L159.0,275.2 L159.2,273.4 L159.3,271.7 L159.5,269.9 L159.7,268.2 L159.9,266.5 L160.0,264.8 L160.2,263.1 L160.4,261.5 L160.6,259.9 L160.8,258.3 L160.9,256.8 L161.1,255.2 L161.3,253.7 L161.5,252.2 L161.6,250.8 L161.8,249.3 L162.0,247.9 L162.2,246.5 L162.3,245.1 L162.5,243.7 L162.7,242.4 L162.9,241.1 L163.1,239.8 L163.2,238.5 L163.4,237.2 L163.6,236.0 L163.8,234.7 L163.9,233.5 L164.1,232.3 L164.3,231.2 L164.5,230.0 L164.6,228.9 L164.8,227.8 L165.0,226.7 L165.2,225.6 L165.4,224.5 L165.5,223.5 L165.7,222.4 L165.9,221.4 L166.1,220.4 L166.2,219.4 L166.4,218.5 L166.6,217.5 L166.8,216.6 L166.9,215.7 L167.1,214.8 L167.3,213.9 L167.5,213.0 L167.7,212.1 L167.8,211.3 L168.0,210.4 L168.2,209.6 L168.4,208.8 L168.5,208.0 L168.7,207.2 L168.9,206.5 L169.1,205.7 L169.2,205.0 L169.4,204.3 L169.6,203.5 L169.8,202.8 L170.0,202.1 L170.1,201.5 L170.3,200.8 L170.5,200.2 L170.7,199.5 L170.8,198.9 L171.0,198.3 L171.2,197.7 L171.4,197.1 L171.5,196.5 L171.7,195.9 L171.9,195.4 L172.1,194.8 L172.3,194.3 L172.4,193.7 L172.6,193.2 L172.8,192.7 L173.0,192.2 L173.1,191.7 L173.3,191.3 L173.5,190.8 L173.7,190.3 L173.8,189.9 L174.0,189.4 L174.2,189.0 L174.4,188.6 L174.6,188.2 L174.7,187.8 L174.9,187.4 L177.8,181.6 L190.0,178.6" stroke="#00ff00" stroke-dasharray="22.6 7.4" stroke-dashoffset="16.96"/>
<path d="M190.0,178.6 L204.1,193.7 L212.6,212.9 L212.8,213.3 L213.0,213.6 L213.1,214.0 L213.3,214.4 L213.5,214.7 L213.7,215.1 L213.9,215.5 L214.0,215.8 L214.2,216.2 L214.4,216.6 L214.6,216.9 L214.7,217.3 L214.9,217.7 L215.1,218.0 L215.3,218.4 L215.4,218.8 L215.6,219.2 L215.8,219.5 L216.0,219.9 L216.2,220.3 L216.3,220.7 L216.5,221.0 L216.7,221.4 L216.9,221.8 L217.0,222.2 L217.2,222.5 L217.4,222.9 L217.6,223.3 L217.7,223.7 L217.9,224.1 L218.1,224.4 L218.3,224.8 L218.5,225.2 L218.6,225.6 L218.8,226.0 L219.0,226.4 L219.2,226.8 L219.3,227.1 L219.5,227.5 L219.7,227.9 L219.9,228.3 L220.0,228.7 L220.2,229.1 L220.4,229.5 L220.6,229.8 L220.8,230.2 L220.9,230.6 L221.1,231.0 L221.3,231.4 L221.5,231.8 L221.6,232.2 L221.8,232.6 L222.0,233.0 L222.2,233.4 L222.4,233.8 L222.5,234.2 L222.7,234.5 L222.9,234.9 L223.1,235.3 L223.2,235.7 L223.4,236.1 L223.6,236.5 L223.8,236.9 L223.9,237.3 L224.1,237.7 L224.3,238.1 L224.5,238.5 L224.7,238.9 L224.8,239.3 L225.0,239.7 L225.2,240.1 L225.4,240.5 L225.5,240.9 L225.7,241.3 L225.9,241.7 L226.1,242.1 L226.2,242.5 L226.4,242.9 L226.6,243.3 L226.8,243.7 L227.0,244.1 L227.1,244.5 L227.3,244.9 L227.5,245.3 L227.7,245.7 L227.8,246.1 L228.0,246.5 L228.2,246.9 L228.4,247.3 L228.5,247.7 L228.7,248.1 L228.9,248.5 L229.1,248.9 L229.3,249.3 L229.4,249.7 L229.6,250.1 L229.8,250.5 L230.0,250.9 L230.1,251.3 L230.3,251.7 L230.5,252.1 L230.7,252.5 L230.8,252.9 L231.0,253.4 L231.2,253.8 L231.4,254.2 L231.6,254.6 L231.7,255.0 L231.9,255.4 L232.1,255.8 L232.3,256.2 L232.4,256.6 L232.6,257.0 L232.8,257.4 L233.0,257.8 L233.1,258.2 L233.3,258.6 L233.5,259.0 L233.7,259.4 L233.9,259.8 L234.0,260.2 L234.2,260.7 L234.4,261.1 L234.6,261.5 L234.7,261.9 L234.9,262.3 L235.1,262.7 L235.3,263.1 L236.8,266.5 L238.2,269.9 L239.7,273.3 L241.2,276.7 L242.7,280.1 L244.2,283.5 L245.7,286.9 L247.1,290.2 L248.6,293.6 L250.1,297.0 L251.6,300.3 L253.1,303.6 L254.6,306.9 L256.0,310.2 L257.5,313.5 L259.0,316.8 L260.5,320.0 L262.0,323.3 L263.5,326.5 L264.9,329.7 L266.4,332.9 L267.9,336.0 L269.4,339.2 L270.9,342.3 L272.4,345.4 L273.8,348.5 L275.3,351.6 L276.8,354.6 L278.3,357.7 L279.8,360.7 L281.2,363.7 L282.7,366.6 L284.2,369.6 L285.7,372.5 L287.2,375.4 L288.7,378.3 L290.1,381.2 L291.6,384.0 L293.1,386.9 L294.6,389.7 L296.1,392.5 L297.6,395.2 L299.0,398.0 L300.5,400.7 L302.0,403.4 L303.5,406.1 L305.0,408.8 L306.5,411.4 L307.9,414.1 L309.4,416.7 L310.9,419.3 L312.4,421.8 L313.9,424.4 L315.4,426.9 L316.8,429.4 L318.3,431.9 L319.8,434.4 L321.3,436.9 L322.8,439.3 L324.3,441.7 L325.7,444.1 L327.2,446.5 L328.7,448.9 L330.2,451.2 L331.7,453.6 L333.2,455.9 L334.6,458.2 L336.1,460.4 L337.6,462.7 L339.1,464.9 L340.6,467.2 L342.1,469.4 L343.5,471.6 L345.0,473.8 L346.5,475.9 L348.0,478.1 L349.5,480.2 L351.0,482.3 L352.4,484.4 L353.9,486.5 L355.4,488.6 L356.9,490.6 L358.4,492.7 L359.9,494.7 L361.3,496.7 L362.8,498.7 L364.3,500.7 L365.8,502.6 L367.3,504.6 L368.8,506.5 L370.2,508.4 L371.7,510.3 L373.2,512.2 L374.7,514.1 L376.2,516.0 L377.7,517.8 L379.1,519.6 L380.6,521.5 L382.1,523.3 L383.6,525.1 L385.1,526.9 L386.6,528.6 L388.0,530.4 L389.5,532.2 L391.0,533.9 L392.5,535.6 L394.0,537.3 L395.5,539.0 L396.9,540.7 L398.4,542.4 L399.9,544.1 L401.4,545.7 L402.9,547.3 L404.4,549.0 L405.8,550.6 L407.3,552.2 L408.8,553.8 L410.3,555.4 L411.8,557.0 L413.3,558.5 L414.7,560.1 L416.2,561.6 L417.7,563.1 L419.2,564.7 L420.7,566.2 L422.2,567.7 L423.6,569.2 L425.1,570.6 L426.6,572.1 L428.1,573.6 L429.6,575.0 L431.0,576.5 L432.5,577.9 L434.0,579.3 L435.5,580.7 L437.0,582.1 L438.5,583.5 L439.9,584.9 L441.4,586.3 L442.9,587.7 L444.4,589.0 L445.9,590.4 L447.4,591.7 L448.8,593.0 L450.3,594.4 L451.8,595.7 L453.3,597.0 L454.8,598.3 L456.3,599.6 L457.7,600.8 L459.2,602.1 L460.7,603.4 L462.2,604.6 L463.7,605.9 L465.2,607.1 L466.6,608.4 L468.1,609.6 L469.6,610.8 L471.1,612.0 L472.6,613.2 L474.1,614.4 L475.5,615.6 L477.0,616.8 L478.5,618.0 L480.0,619.1 L481.5,620.3 L483.0,621.4 L484.4,622.6 L485.9,623.7 L487.4,624.9 L488.9,626.0 L490.4,627.1 L491.9,628.2 L493.3,629.3 L494.8,630.4 L496.3,631.5 L497.8,632.6 L499.3,633.7 L500.8,634.7 L502.2,635.8 L503.7,636.9 L505.2,637.9 L506.7,639.0 L508.2,640.0 L509.7,641.0 L511.1,642.1 L512.6,643.1 L514.1,644.1 L515.6,645.1 L517.1,646.1 L518.6,647.1 L520.0,648.1 L521.5,649.1 L523.0,650.1 L524.5,651.1 L526.0,652.0 L527.5,653.0 L528.9,653.9 L530.4,654.9 L531.9,655.8 L533.4,656.8 L534.9,657.7 L536.4,658.7 L537.8,659.6 L539.3,660.5 L540.8,661.4 L542.3,662.3 L543.8,663.3 L545.3,664.2 L546.7,665.1 L548.2,665.9 L549.7,666.8 L551.2,667.7 L552.7,668.6 L554.2,669.5 L555.6,670.3 L557.1,671.2 L558.6,672.1 L560.1,672.9 L561.6,673.8 L563.1,674.6 L564.5,675.4 L566.0,676.3 L567.5,677.1 L569.0,677.9 L570.5,678.8 L571.9,679.6 L573.4,680.4 L574.9,681.2 L576.4,682.0 L577.9,682.8 L579.4,683.6 L580.8,684.4 L582.3,685.2 L583.8,686.0 L585.3,686.8 L586.8,687.5 L588.3,688.3 L589.7,689.1 L591.2,689.8 L592.7,690.6 L594.2,691.4 L595.7,692.1 L597.2,692.9 L598.6,693.6 L600.1,694.3 L601.6,695.1 L603.1,695.8 L604.6,696.5 L606.1,697.3 L607.5,698.0 L609.0,698.7 L610.5,699.4 L612.0,700.1 L613.5,700.8 L615.0,701.6 L616.4,702.3 L617.9,703.0 L619.4,703.6 L620.9,704.3 L622.4,705.0 L623.9,705.7 L625.3,706.4 L626.8,707.1 L628.3,707.7 L629.8,708.4 L631.3,709.1 L632.8,709.7 L634.2,710.4 L635.7,711.1 L637.2,711.7 L638.7,712.4 L640.2,713.0 L641.7,713.7 L643.1,714.3 L644.6,714.9 L646.1,715.6 L647.6,716.2 L649.1,716.8 L650.6,717.5 L652.0,718.1 L653.5,718.7 L655.0,719.3 L656.5,720.0 L658.0,720.6 L659.5,721.2 L660.9,721.8 L662.4,722.4 L663.9,723.0 L665.4,723.6 L666.9,724.2 L668.4,724.8 L669.8,725.4 L671.3,725.9 L672.8,726.5 L674.3,727.1 L675.8,727.7 L677.3,728.3 L678.7,728.8 L680.2,729.4 L681.7,730.0 L683.2,730.5 L684.7,731.1 L686.2,731.7 L687.6,732.2 L689.1,732.8 L690.6,733.3 L692.1,733.9 L693.6,734.4 L695.1,735.0 L696.5,735.5 L698.0,736.1 L699.5,736.6 L701.0,737.1 L702.5,737.7 L704.0,738.2 L705.4,738.7 L706.9,739.3 L708.4,739.8 L709.9,740.3 L711.4,740.8 L712.8,741.4 L714.3,741.9 L715.8,742.4 L717.3,742.9 L718.8,743.4 L720.3,743.9 L721.7,744.4 L723.2,744.9 L724.7,745.4 L726.2,745.9 L727.7,746.4 L729.2,746.9 L730.6,747.4 L732.1,747.9 L733.6,748.4 L735.1,748.9 L736.6,749.3 L738.1,749.8 L739.5,750.3 L741.0,750.8 L742.5,751.2 L744.0,751.7 L745.5,752.2 L747.0,752.7 L748.4,753.1 L749.9,753.6 L751.4,754.1 L752.9,754.5 L754.4,755.0 L755.9,755.4 L757.3,755.9 L758.8,756.3 L760.3,756.8 L761.8,757.2 L763.3,757.7 L764.8,758.1 L766.2,758.6 L767.7,759.0 L769.2,759.5 L770.7,759.9 L772.2,760.3 L773.7,760.8 L775.1,761.2 L776.6,761.6 L778.1,762.1 L779.6,762.5 L781.1,762.9 L782.6,763.3 L784.0,763.8 L785.5,764.2 L787.0,764.6 L788.5,765.0 L790.0,765.4 L791.5,765.9 L792.9,766.3 L794.4,766.7 L795.9,767.1 L797.4,767.5 L798.9,767.9 L800.4,768.3 L801.8,768.7 L803.3,769.1 L804.8,769.5 L806.3,769.9 L807.8,770.3 L809.3,770.7 L810.7,771.1 L812.2,771.5 L813.7,771.9 L815.2,772.3 L816.7,772.7 L818.2,773.0 L819.6,773.4 L821.1,773.8 L822.6,774.2 L824.1,774.6 L825.6,774.9 L827.1,775.3 L828.5,775.7 L830.0,776.1 L831.5,776.4 L833.0,776.8 L834.5,777.2 L836.0,777.6 L837.4,777.9 L838.9,778.3 L840.4,778.7 L841.9,779.0 L843.4,779.4 L844.9,779.7 L846.3,780.1 L847.8,780.5 L849.3,780.8 L850.8,781.2 L852.3,781.5 L853.7,781.9 L855.2,782.2 L856.7,782.6 L858.2,782.9 L859.7,783.3 L861.2,783.6 L862.6,784.0 L864.1,784.3 L865.6,784.6 L867.1,785.0 L868.6,785.3 L870.1,785.7 L871.5,786.0 L873.0,786.3 L874.5,786.7 L876.0,787.0 L877.5,787.3 L879.0,787.7 L880.4,788.0 L881.9,788.3 L883.4,788.6 L884.9,789.0 L886.4,789.3 L887.9,789.6 L889.3,789.9 L890.8,790.3 L892.3,790.6 L893.8,790.9 L895.3,791.2 L896.8,791.5 L898.2,791.8 L899.7,792.2 L901.2,792.5 L902.7,792.8 L904.2,793.1 L905.7,793.4 L907.1,793.7 L908.6,794.0 L910.1,794.3 L911.6,794.6 L913.1,794.9 L914.6,795.2 L916.0,795.5 L917.5,795.8 L919.0,796.1 L920.5,796.4 L922.0,796.7 L923.5,797.0 L924.9,797.3 L926.4,797.6 L927.9,797.9 L929.4,798.2 L930.9,798.5 L932.4,798.8 L933.8,799.1 L935.3,799.4 L936.8,799.7 L938.3,799.9 L939.8,800.2 L941.3,800.5 L942.7,800.8 L944.2,801.1 L945.7,801.4 L947.2,801.6 L948.7,801.9 L950.2,802.2 L951.6,802.5 L953.1,802.7 L954.6,803.0 L956.1,803.3 L957.6,803.6 L959.1,803.8 L960.5,804.1 L962.0,804.4 L963.5,804.7 L965.0,804.9 L966.5,805.2 L968.0,805.5 L969.4,805.7 L970.9,806.0 L972.4,806.3 L973.9,806.5 L975.4,806.8 L976.9,807.0 L978.3,807.3 L979.8,807.6 L981.3,807.8 L982.8,808.1 L984.3,808.3 L985.8,808.6 L987.2,808.9 L988.7,809.1 L990.2,809.4 L991.7,809.6 L993.2,809.9 L994.6,810.1 L996.1,810.4 L997.6,810.6 L999.1,810.9 L1000.6,811.1 L1002.1,811.4 L1003.5,811.6 L1005.0,811.9 L1006.5,812.1 L1008.0,812.3 L1009.5,812.6 L1011.0,812.8 L1012.4,813.1 L1013.9,813.3 L1015.4,813.6 L1016.9,813.8 L1018.4,814.0 L1019.9,814.3 L1021.3,814.5 L1022.8,814.7 L1024.3,815.0 L1025.8,815.2 L1027.3,815.4 L1028.8,815.7 L1030.2,815.9 L1031.7,816.1 L1033.2,816.4 L1034.7,816.6 L1036.2,816.8 L1037.7,817.1 L1039.1,817.3 L1040.6,817.5 L1042.1,817.7 L1043.6,818.0 L1045.1,818.2 L1046.6,818.4 L1048.0,818.6 L1049.5,818.9 L1051.0,819.1 L1052.5,819.3 L1054.0,819.5 L1055.5,819.8 L1056.9,820.0 L1058.4,820.2 L1059.9,820.4 L1061.4,820.6 L1062.9,820.8 L1064.4,821.1 L1065.8,821.3 L1067.3,821.5 L1068.8,821.7 L1070.3,821.9 L1071.8,822.1 L1073.3,822.3 L1074.7,822.6 L1076.2,822.8 L1077.7,823.0 L1079.2,823.2 L1080.7,823.4 L1082.2,823.6 L1083.6,823.8 L1085.1,824.0 L1086.6,824.2 L1088.1,824.4 L1089.6,824.6 L1091.1,824.8 L1092.5,825.0 L1094.0,825.2 L1095.5,825.4 L1097.0,825.6 L1098.5,825.8 L1100.0,826.0 L1101.4,826.2 L1102.9,826.4 L1104.4,826.6 L1105.9,826.8 L1107.4,827.0 L1108.9,827.2 L1110.3,827.4 L1111.8,827.6 L1113.3,827.8 L1114.8,828.0 L1116.3,828.2 L1117.8,828.4 L1119.2,828.6 L1120.7,828.8 L1122.2,829.0 L1123.7,829.2 L1125.2,829.4 L1126.7,829.5 L1128.1,829.7 L1129.6,829.9 L1131.1,830.1 L1132.6,830.3 L1134.1,830.5 L1135.5,830.7 L1137.0,830.9 L1138.5,831.0 L1140.0,831.2 L1141.5,831.4 L1143.0,831.6 L1144.4,831.8 L1145.9,832.0 L1147.4,832.1 L1148.9,832.3 L1150.4,832.5 L1151.9,832.7 L1153.3,832.9 L1154.8,833.0 L1156.3,833.2 L1157.8,833.4 L1159.3,833.6 L1160.8,833.8 L1162.2,833.9 L1163.7,834.1 L1165.2,834.3 L1166.7,834.5 L1168.2,834.6 L1169.7,834.8 L1171.1,835.0 L1172.6,835.2 L1174.1,835.3 L1175.6,835.5 L1177.1,835.7 L1178.6,835.8 L1180.0,836.0 L1181.5,836.2 L1183.0,836.3 L1184.5,836.5 L1186.0,836.7 L1187.5,836.9 L1188.9,837.0 L1190.4,837.2 L1191.9,837.4 L1193.4,837.5 L1194.9,837.7 L1196.4,837.9 L1197.8,838.0 L1199.3,838.2 L1200.8,838.3 L1202.3,838.5 L1203.8,838.7 L1205.3,838.8 L1206.7,839.0 L1208.2,839.2 L1209.7,839.3 L1211.2,839.5 L1212.7,839.6 L1214.2,839.8 L1215.6,840.0 L1217.1,840.1 L1218.6,840.3 L1220.1,840.4 L1221.6,840.6 L1223.1,840.7 L1224.5,840.9 L1226.0,841.1 L1227.5,841.2 L1229.0,841.4 L1230.5,841.5 L1232.0,841.7 L1233.4,841.8 L1234.9,842.0 L1236.4,842.1 L1237.9,842.3 L1239.4,842.4 L1240.9,842.6 L1242.3,842.7 L1243.8,842.9 L1245.3,843.0 L1246.8,843.2 L1248.3,843.3 L1249.8,843.5 L1251.2,843.6 L1252.7,843.8 L1254.2,843.9 L1255.7,844.1 L1257.2,844.2 L1258.7,844.4 L1260.1,844.5 L1261.6,844.7 L1263.1,844.8 L1264.6,844.9 L1266.1,845.1 L1267.6,845.2 L1269.0,845.4 L1270.5,845.5 L1271.8,845.6" stroke="#00ff00" stroke-dasharray="22.520 7.4" stroke-dashoffset="23.08"/>
<path d="M137.3,893.0 L137.4,889.8 L137.6,882.0 L137.7,874.2 L137.9,866.6 L138.1,859.1 L138.3,851.7 L138.4,844.4 L138.6,837.2 L138.8,830.2 L139.0,823.2 L139.2,816.3 L139.3,809.6 L139.5,802.9 L139.7,796.3 L139.9,789.8 L140.0,783.5 L140.2,777.2 L140.4,771.0 L140.6,764.9 L140.7,758.9 L140.9,752.9 L141.1,747.1 L141.3,741.3 L141.5,735.6 L141.6,730.1 L141.8,724.5 L142.0,719.1 L142.2,713.7 L142.3,708.5 L142.5,703.3 L142.7,698.1 L142.9,693.1 L143.0,688.1 L143.2,683.2 L143.4,678.3 L143.6,673.5 L143.8,668.8 L143.9,664.2 L144.1,659.6 L144.3,655.1 L144.5,650.7 L144.6,646.3 L144.8,642.0 L145.0,637.7 L145.2,633.5 L145.4,629.3 L145.5,625.3 L145.7,621.2 L145.9,617.3 L146.1,613.4 L146.2,609.5 L146.4,605.7 L146.6,601.9 L146.8,598.2 L146.9,594.6 L147.1,591.0 L147.3,587.4 L147.5,583.9 L147.7,580.5 L147.8,577.1 L148.0,573.7 L148.2,570.4 L148.4,567.2 L148.5,564.0 L148.7,560.8 L148.9,557.7 L149.1,554.6 L149.2,551.6 L149.4,548.6 L149.6,545.6 L149.8,542.7 L150.0,539.8 L150.1,537.0 L150.3,534.2 L150.5,531.4 L150.7,528.7 L150.8,526.0 L151.0,523.4 L151.2,520.8 L151.4,518.2 L151.5,515.7 L151.7,513.2 L151.9,510.7 L152.1,508.3 L152.3,505.9 L152.4,503.6 L152.6,501.2 L152.8,498.9 L153.0,496.7 L153.1,494.5 L153.3,492.3 L153.5,490.1 L153.7,488.0 L153.8,485.8 L154.0,483.8 L154.2,481.7 L154.4,479.7 L154.6,477.7 L154.7,475.7 L154.9,473.8 L155.1,471.9 L155.3,470.0 L155.4,468.2 L155.6,466.3 L155.8,464.5 L156.0,462.8 L156.1,461.0 L156.3,459.3 L156.5,457.6 L156.7,455.9 L156.9,454.3 L157.0,452.6 L157.2,451.0 L157.4,449.5 L157.6,447.9 L157.7,446.4 L157.9,444.9 L158.1,443.4 L158.3,441.9 L158.4,440.4 L158.6,439.0 L158.8,437.6 L159.0,436.2 L159.2,434.9 L159.3,433.5 L159.5,432.2 L159.7,430.9 L159.9,429.6 L160.0,428.3 L160.2,427.1 L160.4,425.9 L160.6,424.7 L160.8,423.5 L160.9,422.3 L161.1,421.1 L161.3,420.0 L161.5,418.9 L161.6,417.8 L161.8,416.7 L162.0,415.6 L162.2,414.6 L162.3,413.5 L162.5,412.5 L162.7,411.5 L162.9,410.5 L163.1,409.5 L163.2,408.6 L163.4,407.6 L163.6,406.7 L163.8,405.8 L163.9,404.9 L164.1,404.0 L164.3,403.1 L164.5,402.3 L164.6,401.4 L164.8,400.6 L165.0,399.8 L165.2,399.0 L165.4,398.2 L165.5,397.4 L165.7,396.7 L165.9,395.9 L166.1,395.2 L166.2,394.4 L166.4,393.7 L166.6,393.0 L166.8,392.3 L166.9,391.7 L167.1,391.0 L167.3,390.4 L167.5,389.7 L167.7,389.1 L167.8,388.5 L168.0,387.9 L168.2,387.3 L168.4,386.7 L169.5,381.3 L171.3,375.7 L174.0,371.7 L177.6,368.8 L184.2,367.5 L191.3,368.8 L198.0,374.9 L203.8,383.2 L208.7,391.8 L212.1,398.8 L212.3,399.1 L212.4,399.4 L212.6,399.7 L212.8,400.0 L213.0,400.3 L213.1,400.7 L213.3,401.0 L213.5,401.3 L213.7,401.6 L213.9,401.9 L214.0,402.2 L214.2,402.5 L214.4,402.8 L214.6,403.2 L214.7,403.5 L214.9,403.8 L215.1,404.1 L215.3,404.4 L215.4,404.7 L215.6,405.1 L215.8,405.4 L216.0,405.7 L216.2,406.0 L216.3,406.3 L216.5,406.6 L216.7,407.0 L216.9,407.3 L217.0,407.6 L217.2,407.9 L217.4,408.2 L217.6,408.6 L217.7,408.9 L217.9,409.2 L218.1,409.5 L218.3,409.9 L218.5,410.2 L218.6,410.5 L218.8,410.8 L219.0,411.2 L219.2,411.5 L219.3,411.8 L219.5,412.1 L219.7,412.5 L219.9,412.8 L220.0,413.1 L220.2,413.4 L220.4,413.8 L220.6,414.1 L220.8,414.4 L220.9,414.7 L221.1,415.1 L221.3,415.4 L221.5,415.7 L221.6,416.0 L221.8,416.4 L222.0,416.7 L222.2,417.0 L222.4,417.4 L222.5,417.7 L222.7,418.0 L222.9,418.3 L223.1,418.7 L223.2,419.0 L223.4,419.3 L223.6,419.7 L223.8,420.0 L223.9,420.3 L224.1,420.7 L224.3,421.0 L224.5,421.3 L224.7,421.6 L224.8,422.0 L225.0,422.3 L225.2,422.6 L225.4,423.0 L225.5,423.3 L225.7,423.6 L225.9,424.0 L226.1,424.3 L226.2,424.6 L226.4,425.0 L226.6,425.3 L226.8,425.6 L227.0,426.0 L227.1,426.3 L227.3,426.6 L227.5,427.0 L227.7,427.3 L227.8,427.6 L228.0,428.0 L228.2,428.3 L228.4,428.6 L228.5,429.0 L228.7,429.3 L228.9,429.6 L229.1,430.0 L229.3,430.3 L229.4,430.6 L229.6,431.0 L229.8,431.3 L230.0,431.6 L230.1,432.0 L230.3,432.3 L230.5,432.6 L230.7,433.0 L230.8,433.3 L231.0,433.6 L231.2,434.0 L231.4,434.3 L231.6,434.6 L231.7,435.0 L231.9,435.3 L232.1,435.6 L232.3,436.0 L232.4,436.3 L232.6,436.6 L232.8,437.0 L233.0,437.3 L233.1,437.6 L233.3,438.0 L233.5,438.3 L233.7,438.6 L233.9,439.0 L234.0,439.3 L234.2,439.6 L234.4,440.0 L234.6,440.3 L234.7,440.6 L234.9,441.0 L235.1,441.3 L235.3,441.6 L236.8,444.4 L238.2,447.2 L239.7,450.0 L241.2,452.7 L242.7,455.5 L244.2,458.2 L245.7,461.0 L247.1,463.7 L248.6,466.4 L250.1,469.1 L251.6,471.8 L253.1,474.5 L254.6,477.1 L256.0,479.8 L257.5,482.4 L259.0,485.0 L260.5,487.6 L262.0,490.2 L263.5,492.7 L264.9,495.3 L266.4,497.8 L267.9,500.3 L269.4,502.8 L270.9,505.3 L272.4,507.7 L273.8,510.2 L275.3,512.6 L276.8,515.0 L278.3,517.4 L279.8,519.7 L281.2,522.1 L282.7,524.4 L284.2,526.7 L285.7,529.0 L287.2,531.3 L288.7,533.5 L290.1,535.8 L291.6,538.0 L293.1,540.2 L294.6,542.4 L296.1,544.5 L297.6,546.7 L299.0,548.8 L300.5,550.9 L302.0,553.0 L303.5,555.1 L305.0,557.2 L306.5,559.2 L307.9,561.3 L309.4,563.3 L310.9,565.3 L312.4,567.2 L313.9,569.2 L315.4,571.2 L316.8,573.1 L318.3,575.0 L319.8,576.9 L321.3,578.8 L322.8,580.7 L324.3,582.5 L325.7,584.3 L327.2,586.2 L328.7,588.0 L330.2,589.8 L331.7,591.6 L333.2,593.3 L334.6,595.1 L336.1,596.8 L337.6,598.5 L339.1,600.2 L340.6,601.9 L342.1,603.6 L343.5,605.3 L345.0,606.9 L346.5,608.6 L348.0,610.2 L349.5,611.8 L351.0,613.4 L352.4,615.0 L353.9,616.6 L355.4,618.1 L356.9,619.7 L358.4,621.2 L359.9,622.7 L361.3,624.3 L362.8,625.8 L364.3,627.3 L365.8,628.7 L367.3,630.2 L368.8,631.7 L370.2,633.1 L371.7,634.5 L373.2,636.0 L374.7,637.4 L376.2,638.8 L377.7,640.2 L379.1,641.5 L380.6,642.9 L382.1,644.3 L383.6,645.6 L385.1,646.9 L386.6,648.3 L388.0,649.6 L389.5,650.9 L391.0,652.2 L392.5,653.5 L394.0,654.7 L395.5,656.0 L396.9,657.3 L398.4,658.5 L399.9,659.8 L401.4,661.0 L402.9,662.2 L404.4,663.4 L405.8,664.6 L407.3,665.8 L408.8,667.0 L410.3,668.2 L411.8,669.4 L413.3,670.5 L414.7,671.7 L416.2,672.8 L417.7,674.0 L419.2,675.1 L420.7,676.2 L422.2,677.3 L423.6,678.4 L425.1,679.5 L426.6,680.6 L428.1,681.7 L429.6,682.8 L431.0,683.8 L432.5,684.9 L434.0,685.9 L435.5,687.0 L437.0,688.0 L438.5,689.0 L439.9,690.1 L441.4,691.1 L442.9,692.1 L444.4,693.1 L445.9,694.1 L447.4,695.1 L448.8,696.0 L450.3,697.0 L451.8,698.0 L453.3,698.9 L454.8,699.9 L456.3,700.9 L457.7,701.8 L459.2,702.7 L460.7,703.7 L462.2,704.6 L463.7,705.5 L465.2,706.4 L466.6,707.3 L468.1,708.2 L469.6,709.1 L471.1,710.0 L472.6,710.9 L474.1,711.8 L475.5,712.6 L477.0,713.5 L478.5,714.4 L480.0,715.2 L481.5,716.1 L483.0,716.9 L484.4,717.7 L485.9,718.6 L487.4,719.4 L488.9,720.2 L490.4,721.0 L491.9,721.8 L493.3,722.7 L494.8,723.5 L496.3,724.3 L497.8,725.0 L499.3,725.8 L500.8,726.6 L502.2,727.4 L503.7,728.2 L505.2,728.9 L506.7,729.7 L508.2,730.5 L509.7,731.2 L511.1,732.0 L512.6,732.7 L514.1,733.4 L515.6,734.2 L517.1,734.9 L518.6,735.6 L520.0,736.4 L521.5,737.1 L523.0,737.8 L524.5,738.5 L526.0,739.2 L527.5,739.9 L528.9,740.6 L530.4,741.3 L531.9,742.0 L533.4,742.7 L534.9,743.4 L536.4,744.0 L537.8,744.7 L539.3,745.4 L540.8,746.0 L542.3,746.7 L543.8,747.4 L545.3,748.0 L546.7,748.7 L548.2,749.3 L549.7,750.0 L551.2,750.6 L552.7,751.2 L554.2,751.9 L555.6,752.5 L557.1,753.1 L558.6,753.7 L560.1,754.4 L561.6,755.0 L563.1,755.6 L564.5,756.2 L566.0,756.8 L567.5,757.4 L569.0,758.0 L570.5,758.6 L571.9,759.2 L573.4,759.8 L574.9,760.4 L576.4,760.9 L577.9,761.5 L579.4,762.1 L580.8,762.7 L582.3,763.2 L583.8,763.8 L585.3,764.4 L586.8,764.9 L588.3,765.5 L589.7,766.0 L591.2,766.6 L592.7,767.1 L594.2,767.7 L595.7,768.2 L597.2,768.8 L598.6,769.3 L600.1,769.8 L601.6,770.4 L603.1,770.9 L604.6,771.4 L606.1,771.9 L607.5,772.5 L609.0,773.0 L610.5,773.5 L612.0,774.0 L613.5,774.5 L615.0,775.0 L616.4,775.5 L617.9,776.0 L619.4,776.5 L620.9,777.0 L622.4,777.5 L623.9,778.0 L625.3,778.5 L626.8,779.0 L628.3,779.5 L629.8,780.0 L631.3,780.4 L632.8,780.9 L634.2,781.4 L635.7,781.9 L637.2,782.3 L638.7,782.8 L640.2,783.3 L641.7,783.7 L643.1,784.2 L644.6,784.7 L646.1,785.1 L647.6,785.6 L649.1,786.0 L650.6,786.5 L652.0,786.9 L653.5,787.4 L655.0,787.8 L656.5,788.2 L658.0,788.7 L659.5,789.1 L660.9,789.6 L662.4,790.0 L663.9,790.4 L665.4,790.8 L666.9,791.3 L668.4,791.7 L669.8,792.1 L671.3,792.5 L672.8,793.0 L674.3,793.4 L675.8,793.8 L677.3,794.2 L678.7,794.6 L680.2,795.0 L681.7,795.4 L683.2,795.8 L684.7,796.2 L686.2,796.6 L687.6,797.0 L689.1,797.4 L690.6,797.8 L692.1,798.2 L693.6,798.6 L695.1,799.0 L696.5,799.4 L698.0,799.8 L699.5,800.2 L701.0,800.6 L702.5,800.9 L704.0,801.3 L705.4,801.7 L706.9,802.1 L708.4,802.4 L709.9,802.8 L711.4,803.2 L712.8,803.6 L714.3,803.9 L715.8,804.3 L717.3,804.7 L718.8,805.0 L720.3,805.4 L721.7,805.7 L723.2,806.1 L724.7,806.5 L726.2,806.8 L727.7,807.2 L729.2,807.5 L730.6,807.9 L732.1,808.2 L733.6,808.6 L735.1,808.9 L736.6,809.3 L738.1,809.6 L739.5,809.9 L741.0,810.3 L742.5,810.6 L744.0,811.0 L745.5,811.3 L747.0,811.6 L748.4,812.0 L749.9,812.3 L751.4,812.6 L752.9,813.0 L754.4,813.3 L755.9,813.6 L757.3,813.9 L758.8,814.3 L760.3,814.6 L761.8,814.9 L763.3,815.2 L764.8,815.5 L766.2,815.9 L767.7,816.2 L769.2,816.5 L770.7,816.8 L772.2,817.1 L773.7,817.4 L775.1,817.7 L776.6,818.0 L778.1,818.3 L779.6,818.6 L781.1,818.9 L782.6,819.2 L784.0,819.6 L785.5,819.9 L787.0,820.1 L788.5,820.4 L790.0,820.7 L791.5,821.0 L792.9,821.3 L794.4,821.6 L795.9,821.9 L797.4,822.2 L798.9,822.5 L800.4,822.8 L801.8,823.1 L803.3,823.4 L804.8,823.6 L806.3,823.9 L807.8,824.2 L809.3,824.5 L810.7,824.8 L812.2,825.0 L813.7,825.3 L815.2,825.6 L816.7,825.9 L818.2,826.1 L819.6,826.4 L821.1,826.7 L822.6,827.0 L824.1,827.2 L825.6,827.5 L827.1,827.8 L828.5,828.0 L830.0,828.3 L831.5,828.6 L833.0,828.8 L834.5,829.1 L836.0,829.4 L837.4,829.6 L838.9,829.9 L840.4,830.1 L841.9,830.4 L843.4,830.7 L844.9,830.9 L846.3,831.2 L847.8,831.4 L849.3,831.7 L850.8,831.9 L852.3,832.2 L853.7,832.4 L855.2,832.7 L856.7,832.9 L858.2,833.2 L859.7,833.4 L861.2,833.7 L862.6,833.9 L864.1,834.1 L865.6,834.4 L867.1,834.6 L868.6,834.9 L870.1,835.1 L871.5,835.4 L873.0,835.6 L874.5,835.8 L876.0,836.1 L877.5,836.3 L879.0,836.5 L880.4,836.8 L881.9,837.0 L883.4,837.2 L884.9,837.5 L886.4,837.7 L887.9,837.9 L889.3,838.2 L890.8,838.4 L892.3,838.6 L893.8,838.8 L895.3,839.1 L896.8,839.3 L898.2,839.5 L899.7,839.7 L901.2,840.0 L902.7,840.2 L904.2,840.4 L905.7,840.6 L907.1,840.8 L908.6,841.0 L910.1,841.3 L911.6,841.5 L913.1,841.7 L914.6,841.9 L916.0,842.1 L917.5,842.3 L919.0,842.6 L920.5,842.8 L922.0,843.0 L923.5,843.2 L924.9,843.4 L926.4,843.6 L927.9,843.8 L929.4,844.0 L930.9,844.2 L932.4,844.4 L933.8,844.6 L935.3,844.8 L936.8,845.0 L938.3,845.2 L939.8,845.5 L941.3,845.7 L942.7,845.9 L944.2,846.1 L945.7,846.3 L947.2,846.5 L948.7,846.7 L950.2,846.8 L951.6,847.0 L953.1,847.2 L954.6,847.4 L956.1,847.6 L957.6,847.8 L959.1,848.0 L960.5,848.2 L962.0,848.4 L963.5,848.6 L965.0,848.8 L966.5,849.0 L968.0,849.2 L969.4,849.4 L970.9,849.5 L972.4,849.7 L973.9,849.9 L975.4,850.1 L976.9,850.3 L978.3,850.5 L979.8,850.7 L981.3,850.8 L982.8,851.0 L984.3,851.2 L985.8,851.4 L987.2,851.6 L988.7,851.8 L990.2,851.9 L991.7,852.1 L993.2,852.3 L994.6,852.5 L996.1,852.6 L997.6,852.8 L999.1,853.0 L1000.6,853.2 L1002.1,853.4 L1003.5,853.5 L1005.0,853.7 L1006.5,853.9 L1008.0,854.0 L1009.5,854.2 L1011.0,854.4 L1012.4,854.6 L1013.9,854.7 L1015.4,854.9 L1016.9,855.1 L1018.4,855.2 L1019.9,855.4 L1021.3,855.6 L1022.8,855.7 L1024.3,855.9 L1025.8,856.1 L1027.3,856.2 L1028.8,856.4 L1030.2,856.6 L1031.7,856.7 L1033.2,856.9 L1034.7,857.1 L1036.2,857.2 L1037.7,857.4 L1039.1,857.6 L1040.6,857.7 L1042.1,857.9 L1043.6,858.0 L1045.1,858.2 L1046.6,858.4 L1048.0,858.5 L1049.5,858.7 L1051.0,858.8 L1052.5,859.0 L1054.0,859.1 L1055.5,859.3 L1056.9,859.5 L1058.4,859.6 L1059.9,859.8 L1061.4,859.9 L1062.9,860.1 L1064.4,860.2 L1065.8,860.4 L1067.3,860.5 L1068.8,860.7 L1070.3,860.8 L1071.8,861.0 L1073.3,861.1 L1074.7,861.3 L1076.2,861.4 L1077.7,861.6 L1079.2,861.7 L1080.7,861.9 L1082.2,862.0 L1083.6,862.2 L1085.1,862.3 L1086.6,862.5 L1088.1,862.6 L1089.6,862.8 L1091.1,862.9 L1092.5,863.0 L1094.0,863.2 L1095.5,863.3 L1097.0,863.5 L1098.5,863.6 L1100.0,863.8 L1101.4,863.9 L1102.9,864.0 L1104.4,864.2 L1105.9,864.3 L1107.4,864.5 L1108.9,864.6 L1110.3,864.7 L1111.8,864.9 L1113.3,865.0 L1114.8,865.2 L1116.3,865.3 L1117.8,865.4 L1119.2,865.6 L1120.7,865.7 L1122.2,865.8 L1123.7,866.0 L1125.2,866.1 L1126.7,866.2 L1128.1,866.4 L1129.6,866.5 L1131.1,866.6 L1132.6,866.8 L1134.1,866.9 L1135.5,867.0 L1137.0,867.2 L1138.5,867.3 L1140.0,867.4 L1141.5,867.6 L1143.0,867.7 L1144.4,867.8 L1145.9,868.0 L1147.4,868.1 L1148.9,868.2 L1150.4,868.3 L1151.9,868.5 L1153.3,868.6 L1154.8,868.7 L1156.3,868.8 L1157.8,869.0 L1159.3,869.1 L1160.8,869.2 L1162.2,869.4 L1163.7,869.5 L1165.2,869.6 L1166.7,869.7 L1168.2,869.8 L1169.7,870.0 L1171.1,870.1 L1172.6,870.2 L1174.1,870.3 L1175.6,870.5 L1177.1,870.6 L1178.6,870.7 L1180.0,870.8 L1181.5,870.9 L1183.0,871.1 L1184.5,871.2 L1186.0,871.3 L1187.5,871.4 L1188.9,871.5 L1190.4,871.7 L1191.9,871.8 L1193.4,871.9 L1194.9,872.0 L1196.4,872.1 L1197.8,872.2 L1199.3,872.4 L1200.8,872.5 L1202.3,872.6 L1203.8,872.7 L1205.3,872.8 L1206.7,872.9 L1208.2,873.1 L1209.7,873.2 L1211.2,873.3 L1212.7,873.4 L1214.2,873.5 L1215.6,873.6 L1217.1,873.7 L1218.6,873.8 L1220.1,874.0 L1221.6,874.1 L1223.1,874.2 L1224.5,874.3 L1226.0,874.4 L1227.5,874.5 L1229.0,874.6 L1230.5,874.7 L1232.0,874.8 L1233.4,875.0 L1234.9,875.1 L1236.4,875.2 L1237.9,875.3 L1239.4,875.4 L1240.9,875.5 L1242.3,875.6 L1243.8,875.7 L1245.3,875.8 L1246.8,875.9 L1248.3,876.0 L1249.8,876.1 L1251.2,876.2 L1252.7,876.3 L1254.2,876.4 L1255.7,876.6 L1257.2,876.7 L1258.7,876.8 L1260.1,876.9 L1261.6,877.0 L1263.1,877.1 L1264.6,877.2 L1266.1,877.3 L1267.6,877.4 L1269.0,877.5 L1270.5,877.6 L1271.8,877.7" stroke="#ff0000"/>
<path d="M138.4,893.0 L138.4,892.1 L138.6,887.3 L138.8,882.5 L139.0,877.9 L139.2,873.3 L139.3,868.8 L139.5,864.3 L139.7,860.0 L139.9,855.7 L140.0,851.4 L140.2,847.3 L140.4,843.1 L140.6,839.1 L140.7,835.1 L140.9,831.2 L141.1,827.4 L141.3,823.6 L141.5,819.8 L141.6,816.2 L141.8,812.6 L142.0,809.0 L142.2,805.5 L142.3,802.0 L142.5,798.6 L142.7,795.3 L142.9,792.0 L143.0,788.7 L143.2,785.5 L143.4,782.4 L143.6,779.3 L143.8,776.3 L143.9,773.3 L144.1,770.3 L144.3,767.4 L144.5,764.5 L144.6,761.7 L144.8,758.9 L145.0,756.2 L145.2,753.5 L145.4,750.8 L145.5,748.2 L145.7,745.6 L145.9,743.1 L146.1,740.6 L146.2,738.1 L146.4,735.7 L146.6,733.3 L146.8,731.0 L146.9,728.7 L147.1,726.4 L147.3,724.1 L147.5,721.9 L147.7,719.7 L147.8,717.6 L148.0,715.5 L148.2,713.4 L148.4,711.3 L148.5,709.3 L148.7,707.3 L148.9,705.4 L149.1,703.4 L149.2,701.5 L149.4,699.7 L149.6,697.8 L149.8,696.0 L150.0,694.2 L150.1,692.5 L150.3,690.7 L150.5,689.0 L150.7,687.3 L150.8,685.7 L151.0,684.0 L151.2,682.4 L151.4,680.9 L151.5,679.3 L151.7,677.8 L151.9,676.3 L152.1,674.8 L152.3,673.3 L152.4,671.9 L152.6,670.4 L152.8,669.0 L153.0,667.6 L153.1,666.3 L153.3,665.0 L153.5,663.6 L153.7,662.3 L153.8,661.1 L154.0,659.8 L154.2,658.6 L154.4,657.3 L154.6,656.1 L154.7,655.0 L154.9,653.8 L155.1,652.7 L155.3,651.5 L155.4,650.4 L155.6,649.3 L155.8,648.2 L156.0,647.2 L156.1,646.1 L156.3,645.1 L156.5,644.1 L156.7,643.1 L156.9,642.1 L157.0,641.2 L157.2,640.2 L157.4,639.3 L157.6,638.4 L157.7,637.5 L157.9,636.6 L158.1,635.7 L158.3,634.8 L158.4,634.0 L158.6,633.2 L158.8,632.3 L159.0,631.5 L159.2,630.7 L159.3,630.0 L159.5,629.2 L159.7,628.4 L159.9,627.7 L160.0,627.0 L160.2,626.3 L160.4,625.6 L160.6,624.9 L160.8,624.2 L160.9,623.5 L161.1,622.8 L161.3,622.2 L161.5,621.6 L161.6,620.9 L161.8,620.3 L162.0,619.7 L162.2,619.1 L162.3,618.5 L163.1,615.4 L163.9,611.7 L165.2,608.2 L167.1,604.9 L169.4,601.7 L171.8,599.2 L173.8,597.7 L176.0,596.6 L178.1,596.1 L179.9,596.4 L181.7,597.2 L183.6,598.0 L185.9,598.5 L188.4,599.0 L191.0,600.0 L195.3,603.0 L199.9,607.1 L204.0,611.3 L207.4,615.5 L210.5,619.8 L212.6,622.8 L212.8,623.0 L213.0,623.3 L213.1,623.5 L213.3,623.7 L213.5,623.9 L213.7,624.1 L213.9,624.3 L214.0,624.6 L214.2,624.8 L214.4,625.0 L214.6,625.2 L214.7,625.4 L214.9,625.6 L215.1,625.9 L215.3,626.1 L215.4,626.3 L215.6,626.5 L215.8,626.7 L216.0,627.0 L216.2,627.2 L216.3,627.4 L216.5,627.6 L216.7,627.8 L216.9,628.1 L217.0,628.3 L217.2,628.5 L217.4,628.7 L217.6,628.9 L217.7,629.2 L217.9,629.4 L218.1,629.6 L218.3,629.8 L218.5,630.0 L218.6,630.3 L218.8,630.5 L219.0,630.7 L219.2,630.9 L219.3,631.1 L219.5,631.4 L219.7,631.6 L219.9,631.8 L220.0,632.0 L220.2,632.2 L220.4,632.5 L220.6,632.7 L220.8,632.9 L220.9,633.1 L221.1,633.4 L221.3,633.6 L221.5,633.8 L221.6,634.0 L221.8,634.2 L222.0,634.5 L222.2,634.7 L222.4,634.9 L222.5,635.1 L222.7,635.4 L222.9,635.6 L223.1,635.8 L223.2,636.0 L223.4,636.2 L223.6,636.5 L223.8,636.7 L223.9,636.9 L224.1,637.1 L224.3,637.4 L224.5,637.6 L224.7,637.8 L224.8,638.0 L225.0,638.2 L225.2,638.5 L225.4,638.7 L225.5,638.9 L225.7,639.1 L225.9,639.4 L226.1,639.6 L226.2,639.8 L226.4,640.0 L226.6,640.2 L226.8,640.5 L227.0,640.7 L227.1,640.9 L227.3,641.1 L227.5,641.4 L227.7,641.6 L227.8,641.8 L228.0,642.0 L228.2,642.2 L228.4,642.5 L228.5,642.7 L228.7,642.9 L228.9,643.1 L229.1,643.3 L229.3,643.6 L229.4,643.8 L229.6,644.0 L229.8,644.2 L230.0,644.5 L230.1,644.7 L230.3,644.9 L230.5,645.1 L230.7,645.3 L230.8,645.6 L231.0,645.8 L231.2,646.0 L231.4,646.2 L231.6,646.4 L231.7,646.7 L231.9,646.9 L232.1,647.1 L232.3,647.3 L232.4,647.5 L232.6,647.8 L232.8,648.0 L233.0,648.2 L233.1,648.4 L233.3,648.6 L233.5,648.9 L233.7,649.1 L233.9,649.3 L234.0,649.5 L234.2,649.7 L234.4,650.0 L234.6,650.2 L234.7,650.4 L234.9,650.6 L235.1,650.8 L235.3,651.1 L236.8,652.9 L238.2,654.7 L239.7,656.5 L241.2,658.3 L242.7,660.1 L244.2,661.9 L245.7,663.7 L247.1,665.4 L248.6,667.2 L250.1,668.9 L251.6,670.6 L253.1,672.3 L254.6,674.1 L256.0,675.7 L257.5,677.4 L259.0,679.1 L260.5,680.7 L262.0,682.4 L263.5,684.0 L264.9,685.6 L266.4,687.2 L267.9,688.8 L269.4,690.4 L270.9,691.9 L272.4,693.5 L273.8,695.0 L275.3,696.5 L276.8,698.0 L278.3,699.5 L279.8,701.0 L281.2,702.5 L282.7,703.9 L284.2,705.4 L285.7,706.8 L287.2,708.2 L288.7,709.6 L290.1,711.0 L291.6,712.4 L293.1,713.8 L294.6,715.1 L296.1,716.5 L297.6,717.8 L299.0,719.1 L300.5,720.4 L302.0,721.7 L303.5,723.0 L305.0,724.3 L306.5,725.6 L307.9,726.8 L309.4,728.0 L310.9,729.3 L312.4,730.5 L313.9,731.7 L315.4,732.9 L316.8,734.1 L318.3,735.3 L319.8,736.4 L321.3,737.6 L322.8,738.7 L324.3,739.9 L325.7,741.0 L327.2,742.1 L328.7,743.2 L330.2,744.3 L331.7,745.4 L333.2,746.5 L334.6,747.5 L336.1,748.6 L337.6,749.6 L339.1,750.7 L340.6,751.7 L342.1,752.7 L343.5,753.7 L345.0,754.7 L346.5,755.7 L348.0,756.7 L349.5,757.7 L351.0,758.7 L352.4,759.6 L353.9,760.6 L355.4,761.5 L356.9,762.5 L358.4,763.4 L359.9,764.3 L361.3,765.2 L362.8,766.1 L364.3,767.0 L365.8,767.9 L367.3,768.8 L368.8,769.7 L370.2,770.5 L371.7,771.4 L373.2,772.3 L374.7,773.1 L376.2,773.9 L377.7,774.8 L379.1,775.6 L380.6,776.4 L382.1,777.2 L383.6,778.1 L385.1,778.9 L386.6,779.6 L388.0,780.4 L389.5,781.2 L391.0,782.0 L392.5,782.8 L394.0,783.5 L395.5,784.3 L396.9,785.0 L398.4,785.8 L399.9,786.5 L401.4,787.3 L402.9,788.0 L404.4,788.7 L405.8,789.4 L407.3,790.1 L408.8,790.8 L410.3,791.5 L411.8,792.2 L413.3,792.9 L414.7,793.6 L416.2,794.3 L417.7,795.0 L419.2,795.6 L420.7,796.3 L422.2,797.0 L423.6,797.6 L425.1,798.3 L426.6,798.9 L428.1,799.6 L429.6,800.2 L431.0,800.8 L432.5,801.5 L434.0,802.1 L435.5,802.7 L437.0,803.3 L438.5,803.9 L439.9,804.5 L441.4,805.1 L442.9,805.7 L444.4,806.3 L445.9,806.9 L447.4,807.5 L448.8,808.1 L450.3,808.6 L451.8,809.2 L453.3,809.8 L454.8,810.3 L456.3,810.9 L457.7,811.5 L459.2,812.0 L460.7,812.6 L462.2,813.1 L463.7,813.6 L465.2,814.2 L466.6,814.7 L468.1,815.2 L469.6,815.8 L471.1,816.3 L472.6,816.8 L474.1,817.3 L475.5,817.8 L477.0,818.3 L478.5,818.8 L480.0,819.3 L481.5,819.8 L483.0,820.3 L484.4,820.8 L485.9,821.3 L487.4,821.8 L488.9,822.3 L490.4,822.8 L491.9,823.2 L493.3,823.7 L494.8,824.2 L496.3,824.6 L497.8,825.1 L499.3,825.6 L500.8,826.0 L502.2,826.5 L503.7,826.9 L505.2,827.4 L506.7,827.8 L508.2,828.3 L509.7,828.7 L511.1,829.1 L512.6,829.6 L514.1,830.0 L515.6,830.4 L517.1,830.9 L518.6,831.3 L520.0,831.7 L521.5,832.1 L523.0,832.5 L524.5,832.9 L526.0,833.4 L527.5,833.8 L528.9,834.2 L530.4,834.6 L531.9,835.0 L533.4,835.4 L534.9,835.8 L536.4,836.2 L537.8,836.6 L539.3,836.9 L540.8,837.3 L542.3,837.7 L543.8,838.1 L545.3,838.5 L546.7,838.8 L548.2,839.2 L549.7,839.6 L551.2,840.0 L552.7,840.3 L554.2,840.7 L555.6,841.1 L557.1,841.4 L558.6,841.8 L560.1,842.1 L561.6,842.5 L563.1,842.9 L564.5,843.2 L566.0,843.6 L567.5,843.9 L569.0,844.2 L570.5,844.6 L571.9,844.9 L573.4,845.3 L574.9,845.6 L576.4,845.9 L577.9,846.3 L579.4,846.6 L580.8,846.9 L582.3,847.3 L583.8,847.6 L585.3,847.9 L586.8,848.2 L588.3,848.6 L589.7,848.9 L591.2,849.2 L592.7,849.5 L594.2,849.8 L595.7,850.1 L597.2,850.4 L598.6,850.8 L600.1,851.1 L601.6,851.4 L603.1,851.7 L604.6,852.0 L606.1,852.3 L607.5,852.6 L609.0,852.9 L610.5,853.2 L612.0,853.5 L613.5,853.7 L615.0,854.0 L616.4,854.3 L617.9,854.6 L619.4,854.9 L620.9,855.2 L622.4,855.5 L623.9,855.8 L625.3,856.0 L626.8,856.3 L628.3,856.6 L629.8,856.9 L631.3,857.1 L632.8,857.4 L634.2,857.7 L635.7,857.9 L637.2,858.2 L638.7,858.5 L640.2,858.7 L641.7,859.0 L643.1,859.3 L644.6,859.5 L646.1,859.8 L647.6,860.1 L649.1,860.3 L650.6,860.6 L652.0,860.8 L653.5,861.1 L655.0,861.3 L656.5,861.6 L658.0,861.8 L659.5,862.1 L660.9,862.3 L662.4,862.6 L663.9,862.8 L665.4,863.1 L666.9,863.3 L668.4,863.5 L669.8,863.8 L671.3,864.0 L672.8,864.3 L674.3,864.5 L675.8,864.7 L677.3,865.0 L678.7,865.2 L680.2,865.4 L681.7,865.7 L683.2,865.9 L684.7,866.1 L686.2,866.3 L687.6,866.6 L689.1,866.8 L690.6,867.0 L692.1,867.2 L693.6,867.5 L695.1,867.7 L696.5,867.9 L698.0,868.1 L699.5,868.3 L701.0,868.6 L702.5,868.8 L704.0,869.0 L705.4,869.2 L706.9,869.4 L708.4,869.6 L709.9,869.8 L711.4,870.0 L712.8,870.3 L714.3,870.5 L715.8,870.7 L717.3,870.9 L718.8,871.1 L720.3,871.3 L721.7,871.5 L723.2,871.7 L724.7,871.9 L726.2,872.1 L727.7,872.3 L729.2,872.5 L730.6,872.7 L732.1,872.9 L733.6,873.1 L735.1,873.3 L736.6,873.5 L738.1,873.6 L739.5,873.8 L741.0,874.0 L742.5,874.2 L744.0,874.4 L745.5,874.6 L747.0,874.8 L748.4,875.0 L749.9,875.2 L751.4,875.3 L752.9,875.5 L754.4,875.7 L755.9,875.9 L757.3,876.1 L758.8,876.2 L760.3,876.4 L761.8,876.6 L763.3,876.8 L764.8,877.0 L766.2,877.1 L767.7,877.3 L769.2,877.5 L770.7,877.7 L772.2,877.8 L773.7,878.0 L775.1,878.2 L776.6,878.4 L778.1,878.5 L779.6,878.7 L781.1,878.9 L782.6,879.0 L784.0,879.2 L785.5,879.4 L787.0,879.5 L788.5,879.7 L790.0,879.9 L791.5,880.0 L792.9,880.2 L794.4,880.3 L795.9,880.5 L797.4,880.7 L798.9,880.8 L800.4,881.0 L801.8,881.2 L803.3,881.3 L804.8,881.5 L806.3,881.6 L807.8,881.8 L809.3,881.9 L810.7,882.1 L812.2,882.2 L813.7,882.4 L815.2,882.6 L816.7,882.7 L818.2,882.9 L819.6,883.0 L821.1,883.2 L822.6,883.3 L824.1,883.5 L825.6,883.6 L827.1,883.7 L828.5,883.9 L830.0,884.0 L831.5,884.2 L833.0,884.3 L834.5,884.5 L836.0,884.6 L837.4,884.8 L838.9,884.9 L840.4,885.1 L841.9,885.2 L843.4,885.3 L844.9,885.5 L846.3,885.6 L847.8,885.8 L849.3,885.9 L850.8,886.0 L852.3,886.2 L853.7,886.3 L855.2,886.4 L856.7,886.6 L858.2,886.7 L859.7,886.8 L861.2,887.0 L862.6,887.1 L864.1,887.3 L865.6,887.4 L867.1,887.5 L868.6,887.6 L870.1,887.8 L871.5,887.9 L873.0,888.0 L874.5,888.2 L876.0,888.3 L877.5,888.4 L879.0,888.6 L880.4,888.7 L881.9,888.8 L883.4,888.9 L884.9,889.1 L886.4,889.2 L887.9,889.3 L889.3,889.4 L890.8,889.6 L892.3,889.7 L893.8,889.8 L895.3,889.9 L896.8,890.1 L898.2,890.2 L899.7,890.3 L901.2,890.4 L902.7,890.5 L904.2,890.7 L905.7,890.8 L907.1,890.9 L908.6,891.0 L910.1,891.1 L911.6,891.2 L913.1,891.4 L914.6,891.5 L916.0,891.6 L917.5,891.7 L919.0,891.8 L920.5,891.9 L922.0,892.1 L923.5,892.2 L924.9,892.3 L926.4,892.4 L927.9,892.5 L929.4,892.6 L930.9,892.7 L931.3,892.8" stroke="#00ff00"/>
<path d="M139.9,893.0 L140.0,890.8 L140.2,887.9 L140.4,885.1 L140.6,882.3 L140.7,879.6 L140.9,876.9 L141.1,874.3 L141.3,871.7 L141.5,869.1 L141.6,866.6 L141.8,864.1 L142.0,861.7 L142.2,859.3 L142.3,856.9 L142.5,854.6 L142.7,852.3 L142.9,850.1 L143.0,847.8 L143.2,845.7 L143.4,843.5 L143.6,841.4 L143.8,839.3 L143.9,837.3 L144.1,835.2 L144.3,833.2 L144.5,831.3 L144.6,829.4 L144.8,827.5 L145.0,825.6 L145.2,823.8 L145.4,821.9 L145.5,820.2 L145.7,818.4 L145.9,816.7 L146.1,815.0 L146.2,813.3 L146.4,811.6 L146.6,810.0 L146.8,808.4 L146.9,806.8 L147.1,805.3 L147.3,803.7 L147.5,802.2 L147.7,800.8 L147.8,799.3 L148.0,797.9 L148.2,796.4 L148.4,795.0 L148.5,793.7 L148.7,792.3 L148.9,791.0 L149.1,789.7 L149.2,788.4 L149.4,787.1 L149.6,785.9 L149.8,784.6 L150.0,783.4 L150.1,782.2 L150.3,781.0 L150.5,779.9 L150.7,778.7 L150.8,777.6 L151.0,776.5 L151.2,775.4 L151.4,774.3 L151.5,773.3 L151.7,772.2 L151.9,771.2 L152.1,770.2 L152.3,769.2 L152.4,768.2 L152.6,767.3 L152.8,766.3 L153.0,765.4 L153.1,764.5 L153.3,763.6 L153.5,762.7 L153.7,761.8 L153.8,760.9 L154.0,760.1 L154.2,759.2 L154.4,758.4 L154.6,757.6 L154.7,756.8 L154.9,756.0 L155.1,755.2 L155.3,754.5 L155.4,753.7 L155.6,753.0 L155.8,752.3 L156.0,751.5 L156.1,750.8 L156.3,750.1 L156.5,749.5 L156.7,748.8 L156.9,748.1 L157.0,747.5 L157.2,746.8 L157.4,746.2 L157.6,745.6 L157.7,745.0 L157.9,744.4 L158.1,743.8 L158.3,743.2 L158.4,742.7 L158.6,742.1 L158.8,741.5 L159.0,741.0 L159.2,740.5 L159.3,739.9 L159.5,739.4 L159.7,738.9 L159.9,738.4 L160.0,737.9 L160.2,737.4 L160.4,737.0 L160.6,736.5 L160.8,736.0 L160.9,735.6 L161.1,735.2 L161.3,734.7 L161.5,734.3 L161.6,733.9 L161.8,733.5 L162.0,733.1 L162.2,732.7 L162.3,732.3 L163.2,729.7 L164.2,726.7 L165.6,723.9 L167.4,721.6 L169.5,719.5 L171.8,718.0 L174.1,717.2 L176.5,716.8 L178.9,716.8 L181.0,717.1 L183.1,717.7 L185.2,718.4 L187.5,719.0 L189.7,719.7 L192.2,720.8 L196.5,723.4 L201.2,726.8 L205.5,730.2 L208.8,733.0 L211.9,735.7 L214.0,737.6 L214.2,737.8 L214.4,737.9 L214.6,738.1 L214.7,738.2 L214.9,738.4 L215.1,738.5 L215.3,738.7 L215.4,738.8 L215.6,739.0 L215.8,739.1 L216.0,739.3 L216.2,739.4 L216.3,739.6 L216.5,739.7 L216.7,739.9 L216.9,740.0 L217.0,740.2 L217.2,740.3 L217.4,740.5 L217.6,740.6 L217.7,740.8 L217.9,740.9 L218.1,741.1 L218.3,741.2 L218.5,741.4 L218.6,741.5 L218.8,741.7 L219.0,741.8 L219.2,742.0 L219.3,742.1 L219.5,742.3 L219.7,742.4 L219.9,742.6 L220.0,742.7 L220.2,742.9 L220.4,743.0 L220.6,743.2 L220.8,743.4 L220.9,743.5 L221.1,743.7 L221.3,743.8 L221.5,744.0 L221.6,744.1 L221.8,744.3 L222.0,744.4 L222.2,744.6 L222.4,744.7 L222.5,744.9 L222.7,745.0 L222.9,745.2 L223.1,745.3 L223.2,745.5 L223.4,745.6 L223.6,745.8 L223.8,745.9 L223.9,746.1 L224.1,746.2 L224.3,746.4 L224.5,746.6 L224.7,746.7 L224.8,746.9 L225.0,747.0 L225.2,747.2 L225.4,747.3 L225.5,747.5 L225.7,747.6 L225.9,747.8 L226.1,747.9 L226.2,748.1 L226.4,748.2 L226.6,748.4 L226.8,748.5 L227.0,748.7 L227.1,748.8 L227.3,749.0 L227.5,749.1 L227.7,749.3 L227.8,749.4 L228.0,749.6 L228.2,749.8 L228.4,749.9 L228.5,750.1 L228.7,750.2 L228.9,750.4 L229.1,750.5 L229.3,750.7 L229.4,750.8 L229.6,751.0 L229.8,751.1 L230.0,751.3 L230.1,751.4 L230.3,751.6 L230.5,751.7 L230.7,751.9 L230.8,752.0 L231.0,752.2 L231.2,752.3 L231.4,752.5 L231.6,752.6 L231.7,752.8 L231.9,752.9 L232.1,753.1 L232.3,753.2 L232.4,753.4 L232.6,753.5 L232.8,753.7 L233.0,753.8 L233.1,754.0 L233.3,754.1 L233.5,754.3 L233.7,754.4 L233.9,754.6 L234.0,754.7 L234.2,754.9 L234.4,755.0 L234.6,755.2 L234.7,755.3 L234.9,755.5 L235.1,755.6 L235.3,755.8 L236.8,757.0 L238.2,758.3 L239.7,759.5 L241.2,760.7 L242.7,762.0 L244.2,763.2 L245.7,764.4 L247.1,765.6 L248.6,766.8 L250.1,768.0 L251.6,769.1 L253.1,770.3 L254.6,771.5 L256.0,772.6 L257.5,773.8 L259.0,774.9 L260.5,776.0 L262.0,777.1 L263.5,778.2 L264.9,779.3 L266.4,780.4 L267.9,781.5 L269.4,782.6 L270.9,783.6 L272.4,784.7 L273.8,785.7 L275.3,786.7 L276.8,787.8 L278.3,788.8 L279.8,789.8 L281.2,790.8 L282.7,791.7 L284.2,792.7 L285.7,793.7 L287.2,794.7 L288.7,795.6 L290.1,796.5 L291.6,797.5 L293.1,798.4 L294.6,799.3 L296.1,800.2 L297.6,801.1 L299.0,802.0 L300.5,802.9 L302.0,803.8 L303.5,804.6 L305.0,805.5 L306.5,806.3 L307.9,807.2 L309.4,808.0 L310.9,808.8 L312.4,809.7 L313.9,810.5 L315.4,811.3 L316.8,812.1 L318.3,812.9 L319.8,813.6 L321.3,814.4 L322.8,815.2 L324.3,815.9 L325.7,816.7 L327.2,817.4 L328.7,818.2 L330.2,818.9 L331.7,819.6 L333.2,820.4 L334.6,821.1 L336.1,821.8 L337.6,822.5 L339.1,823.2 L340.6,823.9 L342.1,824.6 L343.5,825.2 L345.0,825.9 L346.5,826.6 L348.0,827.2 L349.5,827.9 L351.0,828.5 L352.4,829.2 L353.9,829.8 L355.4,830.4 L356.9,831.1 L358.4,831.7 L359.9,832.3 L361.3,832.9 L362.8,833.5 L364.3,834.1 L365.8,834.7 L367.3,835.3 L368.8,835.9 L370.2,836.4 L371.7,837.0 L373.2,837.6 L374.7,838.1 L376.2,838.7 L377.7,839.2 L379.1,839.8 L380.6,840.3 L382.1,840.9 L383.6,841.4 L385.1,841.9 L386.6,842.5 L388.0,843.0 L389.5,843.5 L391.0,844.0 L392.5,844.5 L394.0,845.0 L395.5,845.5 L396.9,846.0 L398.4,846.5 L399.9,847.0 L401.4,847.5 L402.9,848.0 L404.4,848.4 L405.8,848.9 L407.3,849.4 L408.8,849.9 L410.3,850.3 L411.8,850.8 L413.3,851.2 L414.7,851.7 L416.2,852.1 L417.7,852.6 L419.2,853.0 L420.7,853.4 L422.2,853.9 L423.6,854.3 L425.1,854.7 L426.6,855.1 L428.1,855.6 L429.6,856.0 L431.0,856.4 L432.5,856.8 L434.0,857.2 L435.5,857.6 L437.0,858.0 L438.5,858.4 L439.9,858.8 L441.4,859.2 L442.9,859.6 L444.4,860.0 L445.9,860.4 L447.4,860.7 L448.8,861.1 L450.3,861.5 L451.8,861.9 L453.3,862.2 L454.8,862.6 L456.3,863.0 L457.7,863.3 L459.2,863.7 L460.7,864.0 L462.2,864.4 L463.7,864.7 L465.2,865.1 L466.6,865.4 L468.1,865.8 L469.6,866.1 L471.1,866.4 L472.6,866.8 L474.1,867.1 L475.5,867.4 L477.0,867.8 L478.5,868.1 L480.0,868.4 L481.5,868.7 L483.0,869.0 L484.4,869.4 L485.9,869.7 L487.4,870.0 L488.9,870.3 L490.4,870.6 L491.9,870.9 L493.3,871.2 L494.8,871.5 L496.3,871.8 L497.8,872.1 L499.3,872.4 L500.8,872.7 L502.2,873.0 L503.7,873.3 L505.2,873.6 L506.7,873.8 L508.2,874.1 L509.7,874.4 L511.1,874.7 L512.6,875.0 L514.1,875.2 L515.6,875.5 L517.1,875.8 L518.6,876.0 L520.0,876.3 L521.5,876.6 L523.0,876.8 L524.5,877.1 L526.0,877.4 L527.5,877.6 L528.9,877.9 L530.4,878.1 L531.9,878.4 L533.4,878.6 L534.9,878.9 L536.4,879.1 L537.8,879.4 L539.3,879.6 L540.8,879.9 L542.3,880.1 L543.8,880.3 L545.3,880.6 L546.7,880.8 L548.2,881.1 L549.7,881.3 L551.2,881.5 L552.7,881.8 L554.2,882.0 L555.6,882.2 L557.1,882.4 L558.6,882.7 L560.1,882.9 L561.6,883.1 L563.1,883.3 L564.5,883.6 L566.0,883.8 L567.5,884.0 L569.0,884.2 L570.5,884.4 L571.9,884.6 L573.4,884.8 L574.9,885.0 L576.4,885.3 L577.9,885.5 L579.4,885.7 L580.8,885.9 L582.3,886.1 L583.8,886.3 L585.3,886.5 L586.8,886.7 L588.3,886.9 L589.7,887.1 L591.2,887.3 L592.7,887.5 L594.2,887.7 L595.7,887.8 L597.2,888.0 L598.6,888.2 L600.1,888.4 L601.6,888.6 L603.1,888.8 L604.6,889.0 L606.1,889.2 L607.5,889.3 L609.0,889.5 L610.5,889.7 L612.0,889.9 L613.5,890.1 L615.0,890.2 L616.4,890.4 L617.9,890.6 L619.4,890.8 L620.9,890.9 L622.4,891.1 L623.9,891.3 L625.3,891.5 L626.8,891.6 L628.3,891.8 L629.8,892.0 L631.3,892.1 L632.8,892.3 L634.2,892.5 L635.7,892.6 L637.2,892.8 L638.7,892.9 L640.2,893.1 L641.7,893.3 L641.9,893.3" stroke="#0000ff"/>
</g>
<g fill="#000">
<ellipse cx="190.1" cy="46.5" rx="4.8" ry="4.1"/>
<ellipse cx="178.9" cy="719.3" rx="4" ry="4.7"/>
<circle cx="191" cy="97.9" r="4.1"/>
<circle cx="184" cy="184.6" r="4.1"/>
<circle cx="177.1" cy="602.6" r="4.1"/>
<rect x="177.2" y="365" width="10.8" height="8" rx="4" ry="4"/>
</g>
<text class="a" transform="translate(167.9,37.8) scale(1.032,1)">(0.08 , 3.52</text>
<text class="a" transform="translate(233.5,100.8) scale(1.032,1)">(0.08 , 3.31)</text>
<text class="a" transform="translate(296.1,183.4) scale(1.032,1)">(0.07 , 2.97)</text>
<text class="a" transform="translate(161.4,343.7) scale(1.032,1)">(0.07 , 2.17)</text>
<text class="a" transform="translate(163.1,580.4) scale(1.032,1)">(0.07 , 1.22)</text>
<text class="a" transform="translate(164.6,706.0) scale(1.032,1)">(0.06 , 0.73)</text>
<text class="s i" font-size="29" transform="translate(-0.9,459.5) scale(0.94,1)" stroke="#000" stroke-width="0.4">COP</text>
<text class="s" font-size="36" transform="translate(676.8,963.4) scale(1.07,1)" stroke="#000" stroke-width="0.5">φ</text>
<g class="s" font-size="19" stroke="#000" stroke-width="0.3">
<text class="i" x="955.5" y="53.6">Z</text>
<text font-size="18" transform="translate(967.2,62.3) scale(0.82,1)">1</text>
<text transform="translate(977.9,53.6) scale(1.17,1)">=</text>
<text x="993.7" y="53.6">0.0027</text>
<text x="1065.8" y="36.6">1</text>
<text class="i" x="1064.5" y="65.2">K</text>
<text x="960.5" y="87.8"><tspan class="i">T</tspan></text>
<text class="i" font-size="15.8" stroke-width="0.5" x="971.6" y="97">h</text>
<text transform="translate(987.2,87.8) scale(1.17,1)">=</text>
<text x="1002.3" y="87.8">296</text>
<text class="i" x="1034" y="87.8">K</text>
<text transform="translate(960.6,120.8) scale(1.24,1)">θ</text>
<text transform="translate(974.9,120.8) scale(1.17,1)">=</text>
<text x="991" y="120.8">0.96</text>
<text class="i" x="965.5" y="150.8">K</text>
<text class="i" font-size="15.2" stroke-width="0.5" x="979.2" y="159.7">ch</text>
<text stroke-width="0.6" transform="translate(996.2,150.8) scale(1.17,1)">=</text>
<text transform="translate(1012.1,150.8) scale(0.96,1)">0.3</text>
</g>
<line x1="1059" y1="46.6" x2="1084" y2="46.6" stroke="#000" stroke-width="1.8"/>
<text class="s" font-size="52" transform="translate(1045.1,59.9) scale(0.51,0.985)">(</text>
<text class="s" font-size="52" transform="translate(1087.3,59.9) scale(0.51,0.985)">)</text>
<path d="M1135.1,24.7 H1157.7 M1164.3,24.7 H1186.3" stroke="#ff0000" stroke-width="2.2" fill="none"/>
<g class="s" font-size="20.3" stroke="#000" stroke-width="0.3">
<text class="i" x="1192.8" y="35.9">Z</text>
<text class="i" font-size="14" stroke-width="0.5" x="1203.4" y="45.1">r</text>
<text stroke-width="0.3" transform="translate(1213.3,35.9) scale(1.16,1)">=</text>
<text stroke-width="0.2" transform="translate(1229.2,35.9) scale(0.965,1)">0.1</text>
</g>
<path d="M1135.1,65.2 H1157.7 M1164.3,65.2 H1186.3" stroke="#0000ff" stroke-width="2.2" fill="none"/>
<g class="s" font-size="20.3" stroke="#000" stroke-width="0.3">
<text class="i" x="1192.8" y="69.9">Z</text>
<text class="i" font-size="14" stroke-width="0.5" x="1203.4" y="79.1">r</text>
<text stroke-width="0.6" transform="translate(1217.6,69.9) scale(1.16,1)">=</text>
<text stroke-width="0.5" transform="translate(1233.5,69.9) scale(0.965,1)">0.3</text>
</g>
<path d="M1135.1,96.9 H1157.7 M1164.3,96.9 H1186.3" stroke="#00ff00" stroke-width="2.2" fill="none"/>
<g class="s" font-size="20.3" stroke="#000" stroke-width="0.3">
<text class="i" x="1192.8" y="102.7">Z</text>
<text class="i" font-size="14" stroke-width="0.5" x="1203.4" y="111.9">r</text>
<text stroke-width="0.3" transform="translate(1213.3,102.7) scale(1.16,1)">=</text>
<text stroke-width="0.2" transform="translate(1229.2,102.7) scale(0.965,1)">0.5</text>
</g>
<line x1="1135.1" y1="128.3" x2="1186.3" y2="128.3" stroke="#ff0000" stroke-width="2.2"/>
<g class="s" font-size="20.3" stroke="#000" stroke-width="0.3">
<text class="i" x="1192.8" y="132.5">Z</text>
<text class="i" font-size="14" stroke-width="0.5" x="1203.4" y="141.7">r</text>
<text stroke-width="0.6" transform="translate(1213.3,132.5) scale(1.16,1)">=</text>
<text stroke-width="0.5" transform="translate(1229.2,132.5) scale(0.965,1)">1</text>
</g>
<line x1="1135.1" y1="157.9" x2="1186.3" y2="157.9" stroke="#00ff00" stroke-width="2.2"/>
<g class="s" font-size="20.3" stroke="#000" stroke-width="0.3">
<text class="i" x="1192.8" y="163.1">Z</text>
<text class="i" font-size="14" stroke-width="0.5" x="1203.4" y="172.3">r</text>
<text stroke-width="0.6" transform="translate(1213.3,163.1) scale(1.16,1)">=</text>
<text stroke-width="0.5" transform="translate(1229.2,163.1) scale(0.965,1)">2</text>
</g>
<line x1="1135.1" y1="188.1" x2="1186.3" y2="188.1" stroke="#0000ff" stroke-width="2.2"/>
<g class="s" font-size="20.3" stroke="#000" stroke-width="0.3">
<text class="i" x="1192.8" y="192.8">Z</text>
<text class="i" font-size="14" stroke-width="0.5" x="1203.4" y="202.0">r</text>
<text stroke-width="0.3" transform="translate(1213.3,192.8) scale(1.16,1)">=</text>
<text stroke-width="0.2" transform="translate(1229.2,192.8) scale(0.965,1)">3</text>
</g>
</svg></body></html>
